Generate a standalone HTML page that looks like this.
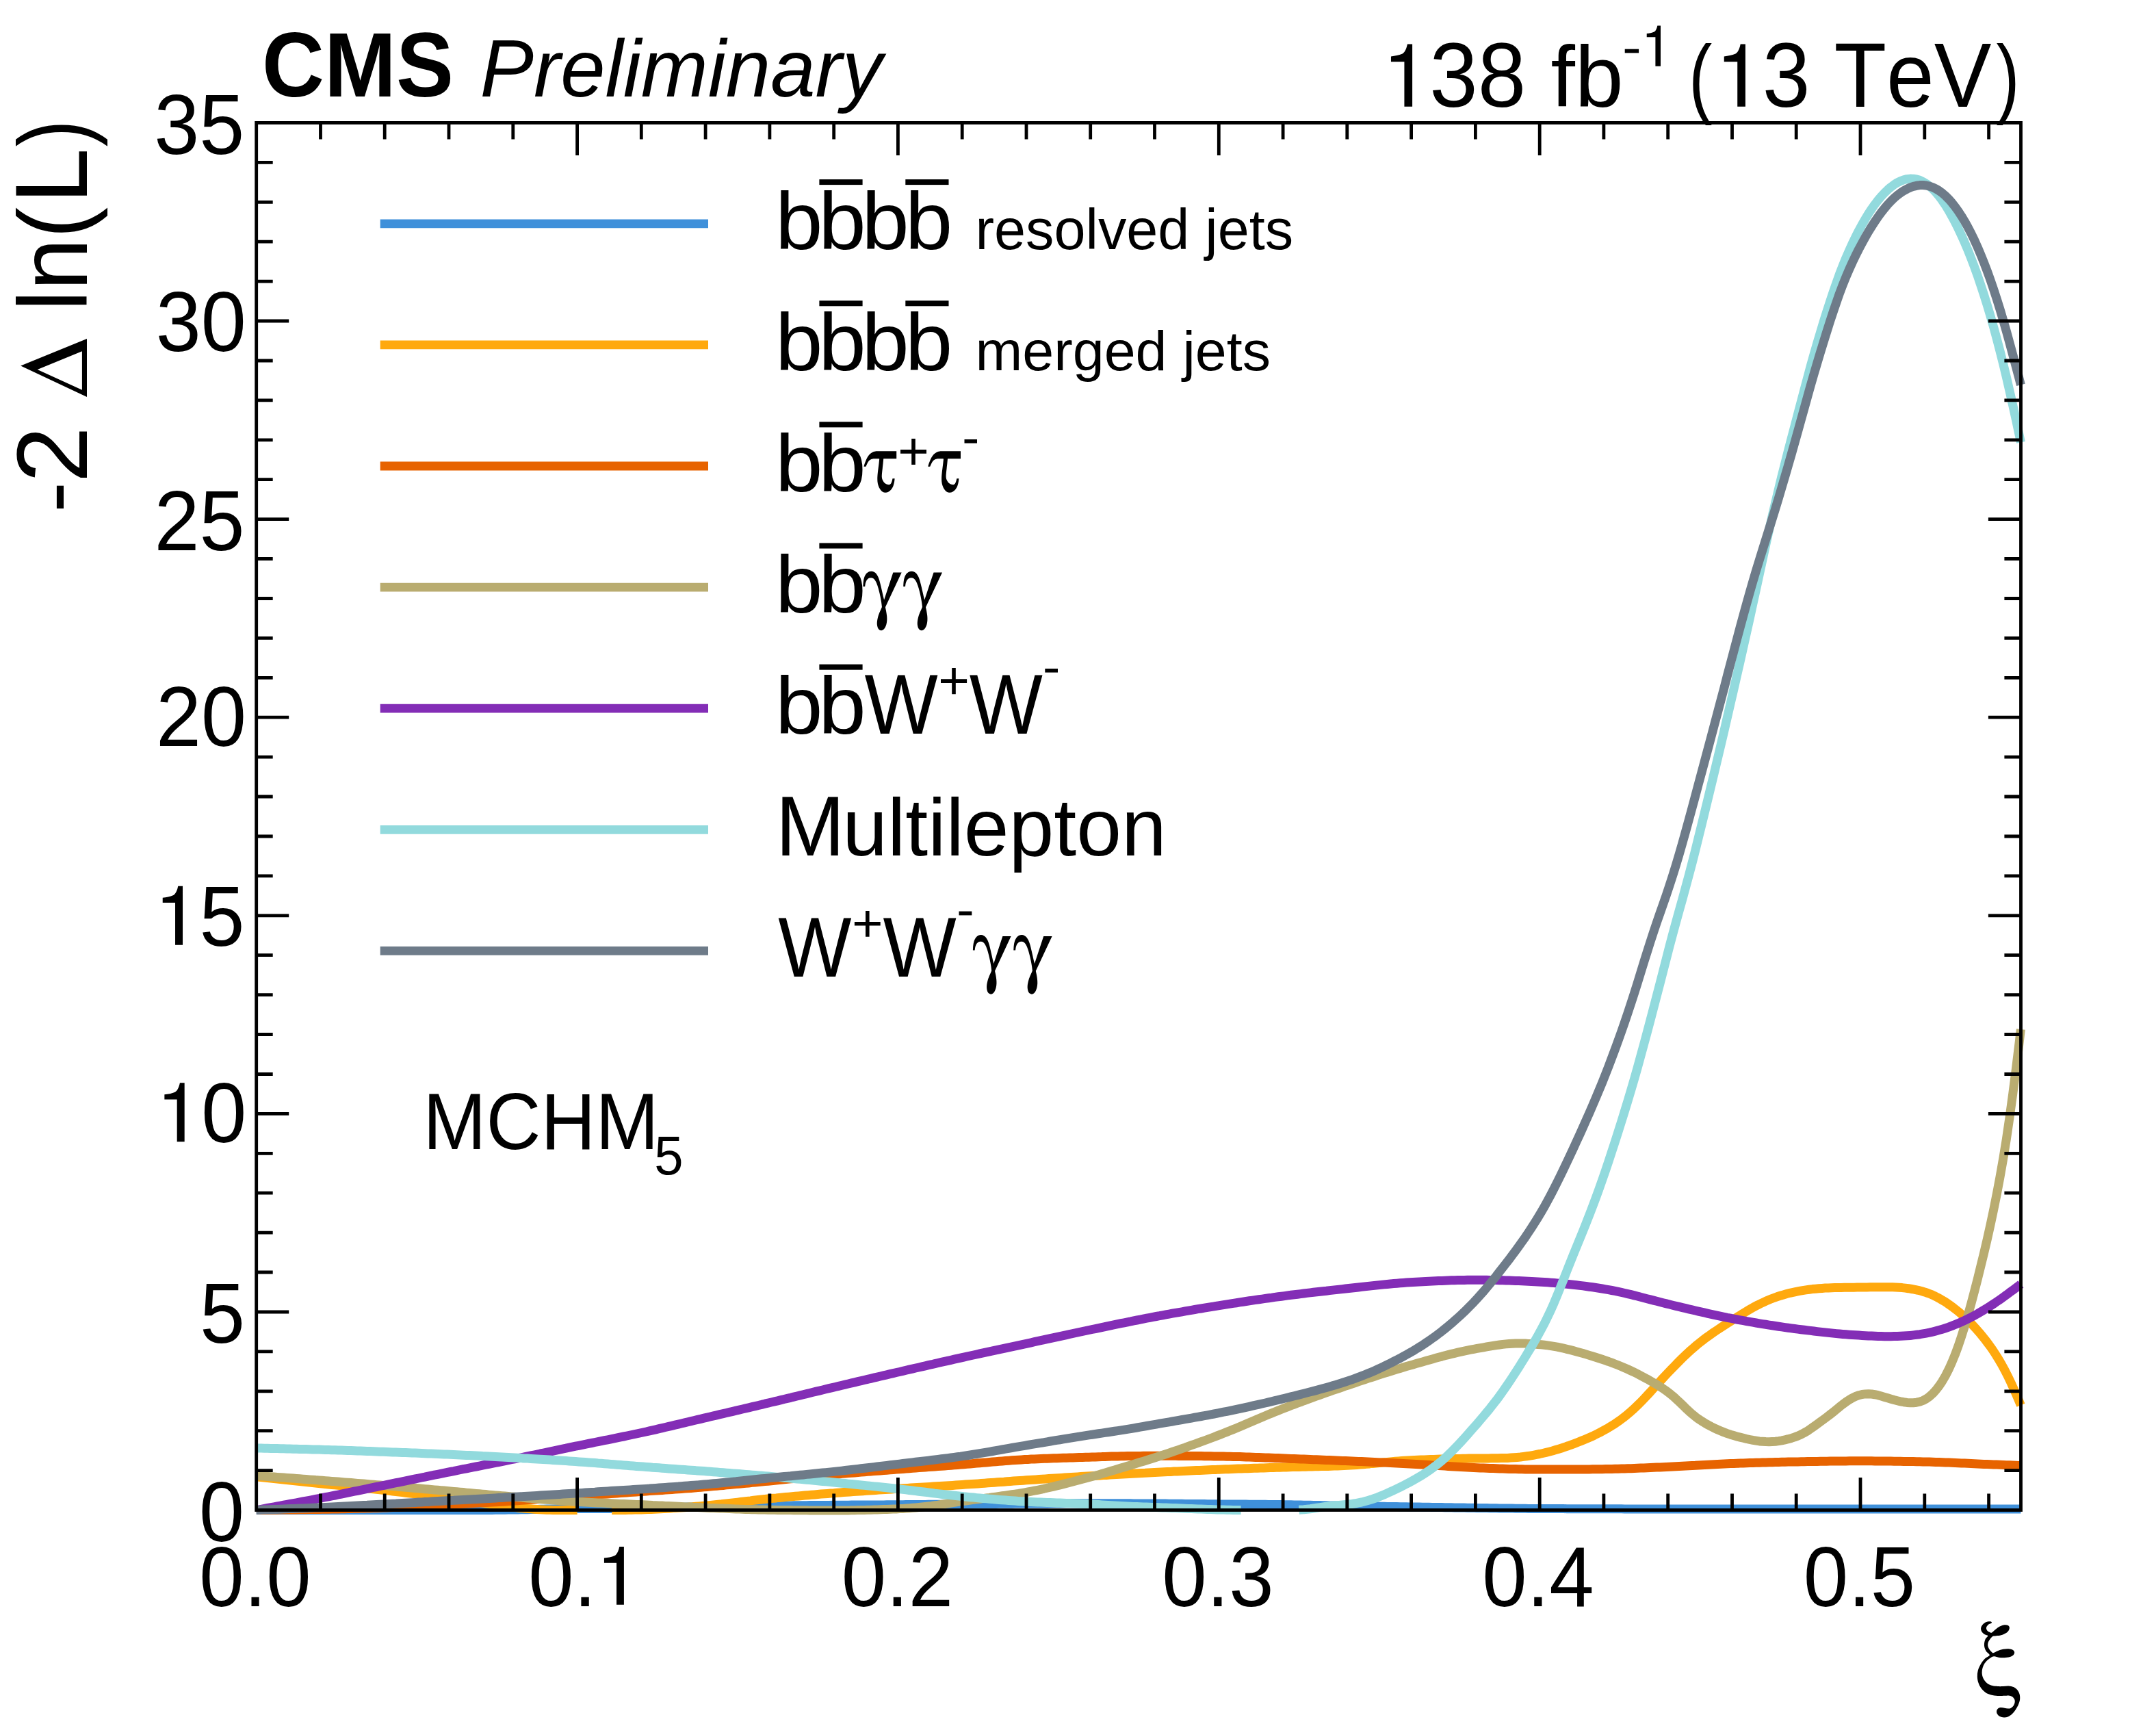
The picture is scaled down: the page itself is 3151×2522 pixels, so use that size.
<!DOCTYPE html>
<html><head><meta charset="utf-8"><title>CMS HH xi scan</title>
<style>html,body{margin:0;padding:0;background:#fff}svg{display:block}text{font-family:"Liberation Sans",sans-serif;fill:#000;font-kerning:none}.ser{font-family:"Liberation Serif",serif}</style></head><body>
<svg width="3151" height="2522" viewBox="0 0 3151 2522">
<rect width="3151" height="2522" fill="#fff"/>
<g fill="none" stroke-width="13" stroke-linejoin="round" stroke-linecap="butt">
<path stroke="#3f90da" d="M374.7 2206.6L377.0 2206.6L381.7 2206.6L386.4 2206.6L391.1 2206.6L395.8 2206.6L400.5 2206.6L405.2 2206.6L409.9 2206.6L414.6 2206.6L419.2 2206.6L423.9 2206.6L428.6 2206.6L433.3 2206.6L438.0 2206.6L442.7 2206.6L447.4 2206.6L452.1 2206.6L456.8 2206.6L461.4 2206.6L466.1 2206.6L470.8 2206.6L475.5 2206.6L480.2 2206.6L484.9 2206.6L489.6 2206.6L494.3 2206.6L498.9 2206.6L503.6 2206.6L508.3 2206.6L513.0 2206.6L517.7 2206.6L522.4 2206.6L527.1 2206.6L531.8 2206.6L536.5 2206.6L541.1 2206.6L545.8 2206.6L550.5 2206.6L555.2 2206.6L559.9 2206.6L564.6 2206.6L569.3 2206.6L574.0 2206.6L578.7 2206.6L583.3 2206.6L588.0 2206.6L592.7 2206.6L597.4 2206.6L602.1 2206.6L606.8 2206.6L611.5 2206.6L616.2 2206.6L620.9 2206.6L625.5 2206.6L630.2 2206.6L634.9 2206.5L639.6 2206.5L644.3 2206.5L649.0 2206.5L653.7 2206.5L658.4 2206.5L663.1 2206.5L667.7 2206.5L672.4 2206.5L677.1 2206.5L681.8 2206.5L686.5 2206.5L691.2 2206.5L695.9 2206.5L700.6 2206.5L705.2 2206.5L709.9 2206.5L714.6 2206.4L719.3 2206.4L724.0 2206.3L728.7 2206.3L733.4 2206.2L738.1 2206.2L742.8 2206.1L747.4 2206.1L752.1 2206.0L756.8 2205.9L761.5 2205.8L766.2 2205.8L770.9 2205.7L775.6 2205.6L780.3 2205.5L785.0 2205.4L789.6 2205.3L794.3 2205.2L799.0 2205.1L803.7 2205.0L808.4 2204.9L813.1 2204.8L817.8 2204.7L822.5 2204.6L827.2 2204.6L831.8 2204.5L836.5 2204.5L841.2 2204.5L845.9 2204.5L850.6 2204.5L855.3 2204.5L860.0 2204.5L864.7 2204.5L869.4 2204.5L874.0 2204.6L878.7 2204.6L883.4 2204.6L888.1 2204.6L892.8 2204.6L897.5 2204.6L902.2 2204.6L906.9 2204.6L911.5 2204.5L916.2 2204.5L920.9 2204.4L925.6 2204.3L930.3 2204.3L935.0 2204.2L939.7 2204.1L944.4 2204.0L949.1 2203.9L953.7 2203.7L958.4 2203.6L963.1 2203.5L967.8 2203.3L972.5 2203.2L977.2 2203.0L981.9 2202.9L986.6 2202.7L991.3 2202.6L995.9 2202.4L1000.6 2202.3L1005.3 2202.1L1010.0 2202.0L1014.7 2201.8L1019.4 2201.7L1024.1 2201.6L1028.8 2201.5L1033.5 2201.4L1038.1 2201.3L1042.8 2201.2L1047.5 2201.1L1052.2 2201.1L1056.9 2201.0L1061.6 2200.9L1066.3 2200.8L1071.0 2200.8L1075.7 2200.7L1080.3 2200.7L1085.0 2200.6L1089.7 2200.6L1094.4 2200.5L1099.1 2200.5L1103.8 2200.4L1108.5 2200.4L1113.2 2200.3L1117.8 2200.3L1122.5 2200.2L1127.2 2200.2L1131.9 2200.1L1136.6 2200.1L1141.3 2200.0L1146.0 2200.0L1150.7 2199.9L1155.4 2199.9L1160.0 2199.8L1164.7 2199.8L1169.4 2199.7L1174.1 2199.7L1178.8 2199.7L1183.5 2199.6L1188.2 2199.6L1192.9 2199.5L1197.6 2199.5L1202.2 2199.5L1206.9 2199.4L1211.6 2199.4L1216.3 2199.3L1221.0 2199.3L1225.7 2199.3L1230.4 2199.2L1235.1 2199.2L1239.8 2199.2L1244.4 2199.1L1249.1 2199.1L1253.8 2199.1L1258.5 2199.1L1263.2 2199.0L1267.9 2199.0L1272.6 2199.0L1277.3 2198.9L1282.0 2198.9L1286.6 2198.9L1291.3 2198.9L1296.0 2198.8L1300.7 2198.8L1305.4 2198.8L1310.1 2198.7L1314.8 2198.7L1319.5 2198.7L1324.1 2198.6L1328.8 2198.6L1333.5 2198.5L1338.2 2198.5L1342.9 2198.5L1347.6 2198.4L1352.3 2198.4L1357.0 2198.3L1361.7 2198.3L1366.3 2198.2L1371.0 2198.2L1375.7 2198.2L1380.4 2198.1L1385.1 2198.1L1389.8 2198.0L1394.5 2198.0L1399.2 2197.9L1403.9 2197.9L1408.5 2197.8L1413.2 2197.8L1417.9 2197.7L1422.6 2197.7L1427.3 2197.6L1432.0 2197.6L1436.7 2197.5L1441.4 2197.5L1446.1 2197.5L1450.7 2197.4L1455.4 2197.4L1460.1 2197.3L1464.8 2197.3L1469.5 2197.2L1474.2 2197.2L1478.9 2197.2L1483.6 2197.1L1488.3 2197.1L1492.9 2197.1L1497.6 2197.0L1502.3 2197.0L1507.0 2197.0L1511.7 2197.0L1516.4 2196.9L1521.1 2196.9L1525.8 2196.9L1530.4 2196.9L1535.1 2196.8L1539.8 2196.8L1544.5 2196.8L1549.2 2196.8L1553.9 2196.8L1558.6 2196.8L1563.3 2196.8L1568.0 2196.8L1572.6 2196.7L1577.3 2196.7L1582.0 2196.7L1586.7 2196.7L1591.4 2196.7L1596.1 2196.7L1600.8 2196.7L1605.5 2196.7L1610.2 2196.7L1614.8 2196.7L1619.5 2196.8L1624.2 2196.8L1628.9 2196.8L1633.6 2196.8L1638.3 2196.8L1643.0 2196.8L1647.7 2196.8L1652.4 2196.8L1657.0 2196.9L1661.7 2196.9L1666.4 2196.9L1671.1 2196.9L1675.8 2197.0L1680.5 2197.0L1685.2 2197.0L1689.9 2197.0L1694.6 2197.1L1699.2 2197.1L1703.9 2197.1L1708.6 2197.2L1713.3 2197.2L1718.0 2197.2L1722.7 2197.3L1727.4 2197.3L1732.1 2197.4L1736.7 2197.4L1741.4 2197.5L1746.1 2197.5L1750.8 2197.6L1755.5 2197.6L1760.2 2197.6L1764.9 2197.7L1769.6 2197.7L1774.3 2197.8L1778.9 2197.8L1783.6 2197.9L1788.3 2197.9L1793.0 2197.9L1797.7 2198.0L1802.4 2198.0L1807.1 2198.0L1811.8 2198.1L1816.5 2198.1L1821.1 2198.1L1825.8 2198.2L1830.5 2198.2L1835.2 2198.2L1839.9 2198.3L1844.6 2198.3L1849.3 2198.3L1854.0 2198.4L1858.7 2198.4L1863.3 2198.5L1868.0 2198.5L1872.7 2198.6L1877.4 2198.7L1882.1 2198.7L1886.8 2198.8L1891.5 2198.9L1896.2 2199.0L1900.9 2199.1L1905.5 2199.2L1910.2 2199.3L1914.9 2199.3L1919.6 2199.4L1924.3 2199.5L1929.0 2199.6L1933.7 2199.7L1938.4 2199.8L1943.0 2199.9L1947.7 2200.0L1952.4 2200.1L1957.1 2200.2L1961.8 2200.3L1966.5 2200.4L1971.2 2200.4L1975.9 2200.5L1980.6 2200.6L1985.2 2200.7L1989.9 2200.8L1994.6 2200.8L1999.3 2200.9L2004.0 2201.0L2008.7 2201.1L2013.4 2201.1L2018.1 2201.2L2022.8 2201.3L2027.4 2201.4L2032.1 2201.4L2036.8 2201.5L2041.5 2201.6L2046.2 2201.7L2050.9 2201.7L2055.6 2201.8L2060.3 2201.9L2065.0 2202.0L2069.6 2202.0L2074.3 2202.1L2079.0 2202.2L2083.7 2202.3L2088.4 2202.3L2093.1 2202.4L2097.8 2202.5L2102.5 2202.6L2107.2 2202.6L2111.8 2202.7L2116.5 2202.8L2121.2 2202.8L2125.9 2202.9L2130.6 2203.0L2135.3 2203.1L2140.0 2203.1L2144.7 2203.2L2149.3 2203.3L2154.0 2203.3L2158.7 2203.4L2163.4 2203.5L2168.1 2203.5L2172.8 2203.6L2177.5 2203.7L2182.2 2203.7L2186.9 2203.8L2191.5 2203.9L2196.2 2203.9L2200.9 2204.0L2205.6 2204.1L2210.3 2204.1L2215.0 2204.2L2219.7 2204.2L2224.4 2204.3L2229.1 2204.3L2233.7 2204.4L2238.4 2204.4L2243.1 2204.4L2247.8 2204.5L2252.5 2204.5L2257.2 2204.5L2261.9 2204.5L2266.6 2204.6L2271.3 2204.6L2275.9 2204.6L2280.6 2204.6L2285.3 2204.6L2290.0 2204.7L2294.7 2204.7L2299.4 2204.7L2304.1 2204.7L2308.8 2204.7L2313.5 2204.7L2318.1 2204.7L2322.8 2204.7L2327.5 2204.8L2332.2 2204.8L2336.9 2204.8L2341.6 2204.8L2346.3 2204.8L2351.0 2204.8L2355.6 2204.8L2360.3 2204.8L2365.0 2204.8L2369.7 2204.8L2374.4 2204.9L2379.1 2204.9L2383.8 2204.9L2388.5 2204.9L2393.2 2204.9L2397.8 2204.9L2402.5 2204.9L2407.2 2204.9L2411.9 2204.9L2416.6 2204.9L2421.3 2204.9L2426.0 2204.9L2430.7 2204.9L2435.4 2204.9L2440.0 2204.9L2444.7 2204.9L2449.4 2204.9L2454.1 2204.9L2458.8 2204.9L2463.5 2204.9L2468.2 2204.9L2472.9 2205.0L2477.6 2205.0L2482.2 2205.0L2486.9 2205.0L2491.6 2205.0L2496.3 2205.0L2501.0 2205.0L2505.7 2205.0L2510.4 2205.0L2515.1 2205.0L2519.8 2205.0L2524.4 2205.0L2529.1 2205.0L2533.8 2205.0L2538.5 2205.0L2543.2 2205.0L2547.9 2205.0L2552.6 2205.0L2557.3 2205.0L2561.9 2205.0L2566.6 2205.0L2571.3 2205.0L2576.0 2205.0L2580.7 2205.0L2585.4 2205.0L2590.1 2205.0L2594.8 2205.0L2599.5 2205.0L2604.1 2205.0L2608.8 2205.0L2613.5 2205.0L2618.2 2205.0L2622.9 2205.0L2627.6 2205.0L2632.3 2205.0L2637.0 2205.0L2641.7 2205.0L2646.3 2205.0L2651.0 2205.0L2655.7 2205.0L2660.4 2205.0L2665.1 2205.0L2669.8 2205.0L2674.5 2205.0L2679.2 2205.0L2683.9 2205.0L2688.5 2205.0L2693.2 2205.0L2697.9 2205.0L2702.6 2205.0L2707.3 2205.0L2712.0 2205.0L2716.7 2205.0L2721.4 2205.0L2726.1 2205.0L2730.7 2205.0L2735.4 2205.0L2740.1 2205.0L2744.8 2205.0L2749.5 2205.0L2754.2 2205.0L2758.9 2205.0L2763.6 2205.0L2768.2 2205.0L2772.9 2205.0L2777.6 2205.0L2782.3 2205.0L2787.0 2205.0L2791.7 2205.0L2796.4 2205.0L2801.1 2205.0L2805.8 2205.0L2810.4 2205.0L2815.1 2205.0L2819.8 2205.0L2824.5 2205.0L2829.2 2205.0L2833.9 2205.0L2838.6 2205.0L2843.3 2205.0L2848.0 2205.0L2852.6 2205.0L2857.3 2205.0L2862.0 2205.0L2866.7 2205.0L2871.4 2205.0L2876.1 2205.0L2880.8 2205.0L2885.5 2205.0L2890.2 2205.0L2894.8 2205.0L2899.5 2205.0L2904.2 2205.0L2908.9 2205.0L2913.6 2205.0L2918.3 2205.0L2923.0 2205.0L2927.7 2205.0L2932.4 2205.0L2937.0 2205.0L2941.7 2205.0L2946.4 2205.0L2951.1 2205.0L2953.4 2205.0"/>
<path stroke="#ffa90e" d="M374.7 2157.9L377.0 2158.1L381.7 2158.6L386.4 2159.1L391.1 2159.6L395.8 2160.1L400.5 2160.6L405.2 2161.1L409.9 2161.6L414.6 2162.1L419.2 2162.6L423.9 2163.1L428.6 2163.6L433.3 2164.1L438.0 2164.5L442.7 2165.0L447.4 2165.5L452.1 2166.0L456.8 2166.5L461.4 2167.0L466.1 2167.5L470.8 2168.0L475.5 2168.5L480.2 2169.0L484.9 2169.4L489.6 2169.9L494.3 2170.4L498.9 2170.9L503.6 2171.4L508.3 2171.9L513.0 2172.3L517.7 2172.8L522.4 2173.3L527.1 2173.8L531.8 2174.3L536.5 2174.8L541.1 2175.3L545.8 2175.8L550.5 2176.3L555.2 2176.8L559.9 2177.4L564.6 2177.9L569.3 2178.4L574.0 2179.0L578.7 2179.5L583.3 2180.1L588.0 2180.6L592.7 2181.2L597.4 2181.8L602.1 2182.3L606.8 2182.9L611.5 2183.5L616.2 2184.1L620.9 2184.7L625.5 2185.2L630.2 2185.8L634.9 2186.4L639.6 2187.1L644.3 2187.7L649.0 2188.3L653.7 2188.9L658.4 2189.5L663.1 2190.2L667.7 2190.8L672.4 2191.5L677.1 2192.1L681.8 2192.8L686.5 2193.4L691.2 2194.1L695.9 2194.8L700.6 2195.4L705.2 2196.1L709.9 2196.8L714.6 2197.4L719.3 2198.1L724.0 2198.7L728.7 2199.3L733.4 2200.0L738.1 2200.6L742.8 2201.2L747.4 2201.8L752.1 2202.4L756.8 2203.0L761.5 2203.5L766.2 2204.0L770.9 2204.4L775.6 2204.8L780.3 2205.2L785.0 2205.5L789.6 2205.8L794.3 2206.0L799.0 2206.2L803.7 2206.3L808.4 2206.4L813.1 2206.5L817.8 2206.5L822.5 2206.5L827.2 2206.5L831.8 2206.5L836.5 2206.5L841.2 2206.5L843.6 2206.5M894.2 2206.5L895.1 2206.5L899.8 2206.5L904.5 2206.5L909.2 2206.4L913.9 2206.4L918.6 2206.3L923.3 2206.2L928.0 2206.1L932.6 2206.0L937.3 2205.9L942.0 2205.7L946.7 2205.6L951.4 2205.4L956.1 2205.2L960.8 2205.0L965.5 2204.7L970.2 2204.5L974.8 2204.2L979.5 2203.9L984.2 2203.6L988.9 2203.3L993.6 2203.0L998.3 2202.7L1003.0 2202.4L1007.7 2202.0L1012.4 2201.7L1017.0 2201.3L1021.7 2200.9L1026.4 2200.5L1031.1 2200.1L1035.8 2199.7L1040.5 2199.2L1045.2 2198.7L1049.9 2198.3L1054.6 2197.8L1059.2 2197.2L1063.9 2196.7L1068.6 2196.2L1073.3 2195.6L1078.0 2195.1L1082.7 2194.5L1087.4 2194.0L1092.1 2193.4L1096.8 2192.9L1101.4 2192.3L1106.1 2191.8L1110.8 2191.3L1115.5 2190.8L1120.2 2190.3L1124.9 2189.8L1129.6 2189.3L1134.3 2188.9L1138.9 2188.4L1143.6 2188.0L1148.3 2187.6L1153.0 2187.1L1157.7 2186.7L1162.4 2186.3L1167.1 2185.9L1171.8 2185.5L1176.5 2185.1L1181.1 2184.7L1185.8 2184.3L1190.5 2183.9L1195.2 2183.5L1199.9 2183.1L1204.6 2182.8L1209.3 2182.4L1214.0 2182.0L1218.7 2181.7L1223.3 2181.3L1228.0 2181.0L1232.7 2180.6L1237.4 2180.3L1242.1 2180.0L1246.8 2179.6L1251.5 2179.3L1256.2 2179.0L1260.9 2178.7L1265.5 2178.3L1270.2 2178.0L1274.9 2177.7L1279.6 2177.4L1284.3 2177.1L1289.0 2176.8L1293.7 2176.5L1298.4 2176.2L1303.0 2175.9L1307.7 2175.6L1312.4 2175.3L1317.1 2175.0L1321.8 2174.7L1326.5 2174.4L1331.2 2174.1L1335.9 2173.8L1340.6 2173.5L1345.2 2173.2L1349.9 2173.0L1354.6 2172.7L1359.3 2172.4L1364.0 2172.1L1368.7 2171.8L1373.4 2171.5L1378.1 2171.3L1382.8 2171.0L1387.4 2170.7L1392.1 2170.4L1396.8 2170.1L1401.5 2169.8L1406.2 2169.5L1410.9 2169.1L1415.6 2168.8L1420.3 2168.5L1425.0 2168.2L1429.6 2167.9L1434.3 2167.5L1439.0 2167.2L1443.7 2166.8L1448.4 2166.5L1453.1 2166.2L1457.8 2165.8L1462.5 2165.5L1467.2 2165.2L1471.8 2164.8L1476.5 2164.5L1481.2 2164.1L1485.9 2163.8L1490.6 2163.5L1495.3 2163.2L1500.0 2162.8L1504.7 2162.5L1509.3 2162.2L1514.0 2161.9L1518.7 2161.6L1523.4 2161.2L1528.1 2160.9L1532.8 2160.6L1537.5 2160.3L1542.2 2160.0L1546.9 2159.7L1551.5 2159.4L1556.2 2159.1L1560.9 2158.8L1565.6 2158.5L1570.3 2158.2L1575.0 2157.9L1579.7 2157.6L1584.4 2157.3L1589.1 2157.0L1593.7 2156.8L1598.4 2156.5L1603.1 2156.2L1607.8 2155.9L1612.5 2155.6L1617.2 2155.4L1621.9 2155.1L1626.6 2154.8L1631.3 2154.6L1635.9 2154.3L1640.6 2154.0L1645.3 2153.8L1650.0 2153.5L1654.7 2153.3L1659.4 2153.0L1664.1 2152.8L1668.8 2152.5L1673.5 2152.3L1678.1 2152.0L1682.8 2151.8L1687.5 2151.5L1692.2 2151.3L1696.9 2151.1L1701.6 2150.8L1706.3 2150.6L1711.0 2150.4L1715.7 2150.1L1720.3 2149.9L1725.0 2149.7L1729.7 2149.5L1734.4 2149.2L1739.1 2149.0L1743.8 2148.8L1748.5 2148.6L1753.2 2148.4L1757.8 2148.2L1762.5 2148.0L1767.2 2147.8L1771.9 2147.6L1776.6 2147.4L1781.3 2147.2L1786.0 2147.0L1790.7 2146.8L1795.4 2146.7L1800.0 2146.5L1804.7 2146.3L1809.4 2146.1L1814.1 2146.0L1818.8 2145.8L1823.5 2145.7L1828.2 2145.5L1832.9 2145.3L1837.6 2145.2L1842.2 2145.0L1846.9 2144.9L1851.6 2144.7L1856.3 2144.6L1861.0 2144.4L1865.7 2144.3L1870.4 2144.2L1875.1 2144.0L1879.8 2143.9L1884.4 2143.8L1889.1 2143.6L1893.8 2143.5L1898.5 2143.4L1903.2 2143.3L1907.9 2143.2L1912.6 2143.1L1917.3 2143.0L1922.0 2142.8L1926.6 2142.7L1931.3 2142.6L1936.0 2142.5L1940.7 2142.4L1945.4 2142.2L1950.1 2142.1L1954.8 2141.9L1959.5 2141.7L1964.1 2141.5L1968.8 2141.3L1973.5 2141.1L1978.2 2140.8L1982.9 2140.5L1987.6 2140.1L1992.3 2139.7L1997.0 2139.3L2001.7 2138.9L2006.3 2138.4L2011.0 2138.0L2015.7 2137.5L2020.4 2137.1L2025.1 2136.6L2029.8 2136.1L2034.5 2135.7L2039.2 2135.3L2043.9 2134.9L2048.5 2134.6L2053.2 2134.2L2057.9 2134.0L2062.6 2133.7L2067.3 2133.5L2072.0 2133.2L2076.7 2133.0L2081.4 2132.9L2086.1 2132.7L2090.7 2132.5L2095.4 2132.4L2100.1 2132.2L2104.8 2132.1L2109.5 2131.9L2114.2 2131.8L2118.9 2131.7L2123.6 2131.6L2128.2 2131.5L2132.9 2131.4L2137.6 2131.3L2142.3 2131.2L2147.0 2131.1L2151.7 2131.1L2156.4 2131.0L2161.1 2131.0L2165.8 2130.9L2170.4 2130.9L2175.1 2130.9L2179.8 2130.8L2184.5 2130.8L2189.2 2130.7L2193.9 2130.6L2198.6 2130.5L2203.3 2130.4L2208.0 2130.1L2212.6 2129.8L2217.3 2129.4L2222.0 2129.0L2226.7 2128.4L2231.4 2127.8L2236.1 2127.1L2240.8 2126.3L2245.5 2125.4L2250.2 2124.5L2254.8 2123.5L2259.5 2122.4L2264.2 2121.2L2268.9 2120.0L2273.6 2118.6L2278.3 2117.2L2283.0 2115.7L2287.7 2114.1L2292.4 2112.5L2297.0 2110.8L2301.7 2109.1L2306.4 2107.3L2311.1 2105.4L2315.8 2103.5L2320.5 2101.5L2325.2 2099.5L2329.9 2097.3L2334.5 2095.0L2339.2 2092.6L2343.9 2090.1L2348.6 2087.5L2353.3 2084.7L2358.0 2081.8L2362.7 2078.6L2367.4 2075.4L2372.1 2071.9L2376.7 2068.2L2381.4 2064.3L2386.1 2060.2L2390.8 2055.8L2395.5 2051.3L2400.2 2046.5L2404.9 2041.6L2409.6 2036.5L2414.3 2031.4L2418.9 2026.2L2423.6 2021.1L2428.3 2016.0L2433.0 2010.9L2437.7 2005.9L2442.4 2001.0L2447.1 1996.2L2451.8 1991.4L2456.5 1986.7L2461.1 1982.2L2465.8 1977.7L2470.5 1973.4L2475.2 1969.3L2479.9 1965.3L2484.6 1961.5L2489.3 1957.8L2494.0 1954.3L2498.7 1950.9L2503.3 1947.7L2508.0 1944.5L2512.7 1941.4L2517.4 1938.3L2522.1 1935.3L2526.8 1932.3L2531.5 1929.3L2536.2 1926.3L2540.8 1923.3L2545.5 1920.4L2550.2 1917.5L2554.9 1914.7L2559.6 1911.9L2564.3 1909.3L2569.0 1906.8L2573.7 1904.5L2578.4 1902.3L2583.0 1900.2L2587.7 1898.3L2592.4 1896.5L2597.1 1894.8L2601.8 1893.3L2606.5 1891.9L2611.2 1890.5L2615.9 1889.3L2620.6 1888.3L2625.2 1887.3L2629.9 1886.4L2634.6 1885.6L2639.3 1884.9L2644.0 1884.2L2648.7 1883.6L2653.4 1883.2L2658.1 1882.7L2662.8 1882.4L2667.4 1882.1L2672.1 1881.9L2676.8 1881.7L2681.5 1881.6L2686.2 1881.5L2690.9 1881.4L2695.6 1881.3L2700.3 1881.3L2705.0 1881.2L2709.6 1881.2L2714.3 1881.1L2719.0 1881.0L2723.7 1881.0L2728.4 1880.9L2733.1 1880.8L2737.8 1880.8L2742.5 1880.7L2747.1 1880.7L2751.8 1880.7L2756.5 1880.7L2761.2 1880.7L2765.9 1880.8L2770.6 1881.0L2775.3 1881.3L2780.0 1881.6L2784.7 1882.1L2789.3 1882.7L2794.0 1883.5L2798.7 1884.3L2803.4 1885.3L2808.1 1886.5L2812.8 1887.9L2817.5 1889.5L2822.2 1891.3L2826.9 1893.4L2831.5 1895.7L2836.2 1898.3L2840.9 1901.1L2845.6 1904.1L2850.3 1907.4L2855.0 1910.8L2859.7 1914.5L2864.4 1918.3L2869.1 1922.4L2873.7 1926.8L2878.4 1931.4L2883.1 1936.3L2887.8 1941.4L2892.5 1946.7L2897.2 1952.4L2901.9 1958.3L2906.6 1964.5L2911.3 1971.0L2915.9 1978.0L2920.6 1985.5L2925.3 1993.5L2930.0 2002.1L2934.7 2011.4L2939.4 2021.2L2944.1 2031.6L2948.8 2042.4L2953.4 2053.3"/>
<path stroke="#e76300" d="M374.7 2206.6L377.0 2206.5L381.7 2206.5L386.4 2206.4L391.1 2206.4L395.8 2206.3L400.5 2206.3L405.2 2206.2L409.9 2206.1L414.6 2206.1L419.2 2206.0L423.9 2206.0L428.6 2205.9L433.3 2205.9L438.0 2205.8L442.7 2205.7L447.4 2205.7L452.1 2205.6L456.8 2205.5L461.4 2205.5L466.1 2205.4L470.8 2205.3L475.5 2205.2L480.2 2205.2L484.9 2205.1L489.6 2205.0L494.3 2204.9L498.9 2204.8L503.6 2204.7L508.3 2204.6L513.0 2204.5L517.7 2204.3L522.4 2204.2L527.1 2204.1L531.8 2204.0L536.5 2203.8L541.1 2203.7L545.8 2203.6L550.5 2203.4L555.2 2203.3L559.9 2203.1L564.6 2202.9L569.3 2202.8L574.0 2202.6L578.7 2202.4L583.3 2202.2L588.0 2202.0L592.7 2201.8L597.4 2201.5L602.1 2201.3L606.8 2201.1L611.5 2200.8L616.2 2200.6L620.9 2200.3L625.5 2200.1L630.2 2199.8L634.9 2199.6L639.6 2199.3L644.3 2199.1L649.0 2198.8L653.7 2198.6L658.4 2198.3L663.1 2198.1L667.7 2197.8L672.4 2197.6L677.1 2197.3L681.8 2197.1L686.5 2196.8L691.2 2196.6L695.9 2196.3L700.6 2196.1L705.2 2195.8L709.9 2195.6L714.6 2195.3L719.3 2195.0L724.0 2194.8L728.7 2194.5L733.4 2194.2L738.1 2193.9L742.8 2193.6L747.4 2193.3L752.1 2193.0L756.8 2192.7L761.5 2192.3L766.2 2192.0L770.9 2191.6L775.6 2191.2L780.3 2190.9L785.0 2190.5L789.6 2190.1L794.3 2189.7L799.0 2189.3L803.7 2188.9L808.4 2188.5L813.1 2188.1L817.8 2187.7L822.5 2187.4L827.2 2187.0L831.8 2186.6L836.5 2186.3L841.2 2186.0L845.9 2185.6L850.6 2185.3L855.3 2185.0L860.0 2184.7L864.7 2184.4L869.4 2184.1L874.0 2183.8L878.7 2183.5L883.4 2183.2L888.1 2182.9L892.8 2182.6L897.5 2182.2L902.2 2181.9L906.9 2181.6L911.5 2181.2L916.2 2180.9L920.9 2180.6L925.6 2180.2L930.3 2179.9L935.0 2179.6L939.7 2179.2L944.4 2178.9L949.1 2178.6L953.7 2178.3L958.4 2178.0L963.1 2177.7L967.8 2177.4L972.5 2177.1L977.2 2176.8L981.9 2176.5L986.6 2176.1L991.3 2175.8L995.9 2175.5L1000.6 2175.1L1005.3 2174.8L1010.0 2174.4L1014.7 2174.0L1019.4 2173.6L1024.1 2173.2L1028.8 2172.8L1033.5 2172.4L1038.1 2172.0L1042.8 2171.6L1047.5 2171.2L1052.2 2170.8L1056.9 2170.4L1061.6 2169.9L1066.3 2169.5L1071.0 2169.1L1075.7 2168.6L1080.3 2168.2L1085.0 2167.8L1089.7 2167.3L1094.4 2166.9L1099.1 2166.4L1103.8 2166.0L1108.5 2165.5L1113.2 2165.1L1117.8 2164.6L1122.5 2164.2L1127.2 2163.7L1131.9 2163.2L1136.6 2162.8L1141.3 2162.3L1146.0 2161.8L1150.7 2161.3L1155.4 2160.8L1160.0 2160.4L1164.7 2159.9L1169.4 2159.4L1174.1 2158.9L1178.8 2158.4L1183.5 2157.9L1188.2 2157.4L1192.9 2157.0L1197.6 2156.5L1202.2 2156.0L1206.9 2155.6L1211.6 2155.1L1216.3 2154.7L1221.0 2154.3L1225.7 2153.9L1230.4 2153.4L1235.1 2153.0L1239.8 2152.6L1244.4 2152.2L1249.1 2151.9L1253.8 2151.5L1258.5 2151.1L1263.2 2150.7L1267.9 2150.3L1272.6 2150.0L1277.3 2149.6L1282.0 2149.2L1286.6 2148.9L1291.3 2148.5L1296.0 2148.2L1300.7 2147.8L1305.4 2147.4L1310.1 2147.1L1314.8 2146.7L1319.5 2146.4L1324.1 2146.0L1328.8 2145.7L1333.5 2145.3L1338.2 2145.0L1342.9 2144.6L1347.6 2144.3L1352.3 2143.9L1357.0 2143.6L1361.7 2143.3L1366.3 2142.9L1371.0 2142.6L1375.7 2142.2L1380.4 2141.9L1385.1 2141.5L1389.8 2141.2L1394.5 2140.8L1399.2 2140.4L1403.9 2140.1L1408.5 2139.7L1413.2 2139.3L1417.9 2138.9L1422.6 2138.5L1427.3 2138.1L1432.0 2137.7L1436.7 2137.3L1441.4 2136.9L1446.1 2136.5L1450.7 2136.1L1455.4 2135.7L1460.1 2135.3L1464.8 2134.9L1469.5 2134.5L1474.2 2134.2L1478.9 2133.8L1483.6 2133.5L1488.3 2133.2L1492.9 2132.9L1497.6 2132.6L1502.3 2132.4L1507.0 2132.1L1511.7 2131.9L1516.4 2131.7L1521.1 2131.5L1525.8 2131.3L1530.4 2131.2L1535.1 2131.0L1539.8 2130.8L1544.5 2130.7L1549.2 2130.5L1553.9 2130.3L1558.6 2130.2L1563.3 2130.1L1568.0 2129.9L1572.6 2129.8L1577.3 2129.6L1582.0 2129.5L1586.7 2129.3L1591.4 2129.2L1596.1 2129.0L1600.8 2128.9L1605.5 2128.7L1610.2 2128.6L1614.8 2128.4L1619.5 2128.3L1624.2 2128.1L1628.9 2128.0L1633.6 2127.9L1638.3 2127.8L1643.0 2127.7L1647.7 2127.6L1652.4 2127.6L1657.0 2127.5L1661.7 2127.4L1666.4 2127.4L1671.1 2127.3L1675.8 2127.3L1680.5 2127.3L1685.2 2127.3L1689.9 2127.3L1694.6 2127.3L1699.2 2127.3L1703.9 2127.3L1708.6 2127.3L1713.3 2127.3L1718.0 2127.3L1722.7 2127.4L1727.4 2127.4L1732.1 2127.4L1736.7 2127.5L1741.4 2127.5L1746.1 2127.5L1750.8 2127.6L1755.5 2127.6L1760.2 2127.7L1764.9 2127.7L1769.6 2127.8L1774.3 2127.9L1778.9 2127.9L1783.6 2128.0L1788.3 2128.1L1793.0 2128.2L1797.7 2128.3L1802.4 2128.4L1807.1 2128.5L1811.8 2128.6L1816.5 2128.8L1821.1 2128.9L1825.8 2129.1L1830.5 2129.2L1835.2 2129.4L1839.9 2129.6L1844.6 2129.8L1849.3 2129.9L1854.0 2130.1L1858.7 2130.3L1863.3 2130.5L1868.0 2130.6L1872.7 2130.8L1877.4 2131.0L1882.1 2131.2L1886.8 2131.4L1891.5 2131.5L1896.2 2131.7L1900.9 2131.9L1905.5 2132.1L1910.2 2132.3L1914.9 2132.5L1919.6 2132.7L1924.3 2132.8L1929.0 2133.0L1933.7 2133.2L1938.4 2133.4L1943.0 2133.6L1947.7 2133.8L1952.4 2134.0L1957.1 2134.2L1961.8 2134.4L1966.5 2134.6L1971.2 2134.8L1975.9 2135.0L1980.6 2135.2L1985.2 2135.4L1989.9 2135.6L1994.6 2135.8L1999.3 2136.0L2004.0 2136.2L2008.7 2136.4L2013.4 2136.7L2018.1 2136.9L2022.8 2137.1L2027.4 2137.3L2032.1 2137.5L2036.8 2137.7L2041.5 2137.9L2046.2 2138.2L2050.9 2138.4L2055.6 2138.7L2060.3 2138.9L2065.0 2139.2L2069.6 2139.4L2074.3 2139.7L2079.0 2140.0L2083.7 2140.3L2088.4 2140.6L2093.1 2140.9L2097.8 2141.2L2102.5 2141.5L2107.2 2141.8L2111.8 2142.1L2116.5 2142.4L2121.2 2142.7L2125.9 2143.0L2130.6 2143.3L2135.3 2143.6L2140.0 2143.8L2144.7 2144.1L2149.3 2144.3L2154.0 2144.5L2158.7 2144.7L2163.4 2144.9L2168.1 2145.1L2172.8 2145.3L2177.5 2145.5L2182.2 2145.6L2186.9 2145.8L2191.5 2145.9L2196.2 2146.1L2200.9 2146.2L2205.6 2146.4L2210.3 2146.5L2215.0 2146.6L2219.7 2146.7L2224.4 2146.8L2229.1 2146.9L2233.7 2147.0L2238.4 2147.0L2243.1 2147.1L2247.8 2147.1L2252.5 2147.1L2257.2 2147.1L2261.9 2147.1L2266.6 2147.1L2271.3 2147.1L2275.9 2147.1L2280.6 2147.1L2285.3 2147.1L2290.0 2147.1L2294.7 2147.1L2299.4 2147.0L2304.1 2147.0L2308.8 2147.0L2313.5 2146.9L2318.1 2146.9L2322.8 2146.9L2327.5 2146.8L2332.2 2146.8L2336.9 2146.7L2341.6 2146.7L2346.3 2146.6L2351.0 2146.5L2355.6 2146.4L2360.3 2146.3L2365.0 2146.2L2369.7 2146.1L2374.4 2146.0L2379.1 2145.8L2383.8 2145.7L2388.5 2145.5L2393.2 2145.3L2397.8 2145.1L2402.5 2144.9L2407.2 2144.7L2411.9 2144.5L2416.6 2144.3L2421.3 2144.1L2426.0 2143.9L2430.7 2143.7L2435.4 2143.5L2440.0 2143.3L2444.7 2143.0L2449.4 2142.8L2454.1 2142.6L2458.8 2142.3L2463.5 2142.1L2468.2 2141.8L2472.9 2141.5L2477.6 2141.3L2482.2 2141.0L2486.9 2140.7L2491.6 2140.5L2496.3 2140.2L2501.0 2140.0L2505.7 2139.7L2510.4 2139.5L2515.1 2139.2L2519.8 2139.0L2524.4 2138.8L2529.1 2138.6L2533.8 2138.4L2538.5 2138.2L2543.2 2138.1L2547.9 2137.9L2552.6 2137.8L2557.3 2137.6L2561.9 2137.5L2566.6 2137.3L2571.3 2137.2L2576.0 2137.0L2580.7 2136.9L2585.4 2136.8L2590.1 2136.7L2594.8 2136.6L2599.5 2136.4L2604.1 2136.3L2608.8 2136.2L2613.5 2136.1L2618.2 2136.0L2622.9 2136.0L2627.6 2135.9L2632.3 2135.8L2637.0 2135.7L2641.7 2135.6L2646.3 2135.5L2651.0 2135.5L2655.7 2135.4L2660.4 2135.3L2665.1 2135.2L2669.8 2135.2L2674.5 2135.1L2679.2 2135.1L2683.9 2135.0L2688.5 2135.0L2693.2 2134.9L2697.9 2134.9L2702.6 2134.8L2707.3 2134.8L2712.0 2134.8L2716.7 2134.8L2721.4 2134.8L2726.1 2134.8L2730.7 2134.8L2735.4 2134.8L2740.1 2134.9L2744.8 2134.9L2749.5 2134.9L2754.2 2135.0L2758.9 2135.0L2763.6 2135.1L2768.2 2135.2L2772.9 2135.2L2777.6 2135.3L2782.3 2135.4L2787.0 2135.4L2791.7 2135.5L2796.4 2135.6L2801.1 2135.7L2805.8 2135.8L2810.4 2135.9L2815.1 2136.0L2819.8 2136.1L2824.5 2136.3L2829.2 2136.4L2833.9 2136.6L2838.6 2136.7L2843.3 2136.9L2848.0 2137.1L2852.6 2137.3L2857.3 2137.5L2862.0 2137.7L2866.7 2137.9L2871.4 2138.1L2876.1 2138.3L2880.8 2138.6L2885.5 2138.8L2890.2 2139.0L2894.8 2139.2L2899.5 2139.4L2904.2 2139.6L2908.9 2139.8L2913.6 2140.0L2918.3 2140.1L2923.0 2140.3L2927.7 2140.5L2932.4 2140.7L2937.0 2140.8L2941.7 2141.0L2946.4 2141.2L2951.1 2141.4L2953.4 2141.5"/>
<path stroke="#b9ac70" d="M374.7 2156.2L377.0 2156.3L381.7 2156.7L386.4 2157.0L391.1 2157.4L395.8 2157.7L400.5 2158.1L405.2 2158.4L409.9 2158.7L414.6 2159.1L419.2 2159.4L423.9 2159.8L428.6 2160.1L433.3 2160.5L438.0 2160.8L442.7 2161.2L447.4 2161.5L452.1 2161.9L456.8 2162.2L461.4 2162.6L466.1 2162.9L470.8 2163.3L475.5 2163.7L480.2 2164.0L484.9 2164.4L489.6 2164.8L494.3 2165.1L498.9 2165.5L503.6 2165.9L508.3 2166.2L513.0 2166.6L517.7 2167.0L522.4 2167.4L527.1 2167.8L531.8 2168.1L536.5 2168.5L541.1 2168.9L545.8 2169.3L550.5 2169.7L555.2 2170.1L559.9 2170.4L564.6 2170.8L569.3 2171.2L574.0 2171.6L578.7 2172.0L583.3 2172.4L588.0 2172.8L592.7 2173.2L597.4 2173.6L602.1 2174.0L606.8 2174.4L611.5 2174.8L616.2 2175.3L620.9 2175.7L625.5 2176.1L630.2 2176.5L634.9 2176.9L639.6 2177.3L644.3 2177.7L649.0 2178.1L653.7 2178.5L658.4 2179.0L663.1 2179.4L667.7 2179.8L672.4 2180.2L677.1 2180.6L681.8 2181.1L686.5 2181.5L691.2 2181.9L695.9 2182.4L700.6 2182.8L705.2 2183.2L709.9 2183.6L714.6 2184.1L719.3 2184.5L724.0 2184.9L728.7 2185.3L733.4 2185.7L738.1 2186.1L742.8 2186.5L747.4 2186.9L752.1 2187.3L756.8 2187.7L761.5 2188.1L766.2 2188.5L770.9 2188.9L775.6 2189.3L780.3 2189.7L785.0 2190.1L789.6 2190.5L794.3 2190.9L799.0 2191.2L803.7 2191.6L808.4 2192.0L813.1 2192.3L817.8 2192.7L822.5 2193.0L827.2 2193.3L831.8 2193.6L836.5 2193.9L841.2 2194.2L845.9 2194.5L850.6 2194.8L855.3 2195.0L860.0 2195.3L864.7 2195.5L869.4 2195.7L874.0 2195.9L878.7 2196.1L883.4 2196.3L888.1 2196.6L892.8 2196.8L897.5 2197.0L902.2 2197.2L906.9 2197.4L911.5 2197.5L916.2 2197.7L920.9 2198.0L925.6 2198.2L930.3 2198.4L935.0 2198.6L939.7 2198.8L944.4 2199.0L949.1 2199.2L953.7 2199.5L958.4 2199.7L963.1 2199.9L967.8 2200.1L972.5 2200.4L977.2 2200.6L981.9 2200.8L986.6 2201.1L991.3 2201.3L995.9 2201.5L1000.6 2201.7L1005.3 2202.0L1010.0 2202.2L1014.7 2202.4L1019.4 2202.6L1024.1 2202.8L1028.8 2203.0L1033.5 2203.2L1038.1 2203.4L1042.8 2203.6L1047.5 2203.7L1052.2 2203.9L1056.9 2204.1L1061.6 2204.3L1066.3 2204.5L1071.0 2204.7L1075.7 2204.9L1080.3 2205.1L1085.0 2205.2L1089.7 2205.4L1094.4 2205.5L1099.1 2205.7L1103.8 2205.8L1108.5 2205.9L1113.2 2206.0L1117.8 2206.1L1122.5 2206.2L1127.2 2206.3L1131.9 2206.3L1136.6 2206.4L1141.3 2206.5L1146.0 2206.5L1150.7 2206.6L1155.4 2206.6L1160.0 2206.7L1164.7 2206.7L1169.4 2206.8L1174.1 2206.8L1178.8 2206.8L1183.5 2206.9L1188.2 2206.9L1192.9 2206.9L1197.6 2207.0L1202.2 2207.0L1206.9 2207.0L1211.6 2207.0L1216.3 2207.0L1221.0 2207.0L1225.7 2207.0L1230.4 2206.9L1235.1 2206.9L1239.8 2206.9L1244.4 2206.8L1249.1 2206.7L1253.8 2206.6L1258.5 2206.5L1263.2 2206.4L1267.9 2206.3L1272.6 2206.2L1277.3 2206.0L1282.0 2205.9L1286.6 2205.7L1291.3 2205.6L1296.0 2205.4L1300.7 2205.2L1305.4 2205.1L1310.1 2204.9L1314.8 2204.6L1319.5 2204.4L1324.1 2204.1L1328.8 2203.7L1333.5 2203.3L1338.2 2202.9L1342.9 2202.5L1347.6 2202.0L1352.3 2201.5L1357.0 2200.9L1361.7 2200.4L1366.3 2199.7L1371.0 2199.1L1375.7 2198.3L1380.4 2197.6L1385.1 2196.8L1389.8 2196.1L1394.5 2195.3L1399.2 2194.6L1403.9 2193.9L1408.5 2193.3L1413.2 2192.7L1417.9 2192.0L1422.6 2191.4L1427.3 2190.8L1432.0 2190.2L1436.7 2189.6L1441.4 2189.0L1446.1 2188.4L1450.7 2187.7L1455.4 2187.1L1460.1 2186.5L1464.8 2185.8L1469.5 2185.2L1474.2 2184.5L1478.9 2183.8L1483.6 2183.1L1488.3 2182.4L1492.9 2181.6L1497.6 2180.8L1502.3 2180.0L1507.0 2179.1L1511.7 2178.2L1516.4 2177.3L1521.1 2176.3L1525.8 2175.3L1530.4 2174.2L1535.1 2173.2L1539.8 2172.1L1544.5 2170.9L1549.2 2169.8L1553.9 2168.6L1558.6 2167.4L1563.3 2166.2L1568.0 2165.0L1572.6 2163.8L1577.3 2162.5L1582.0 2161.3L1586.7 2160.0L1591.4 2158.8L1596.1 2157.5L1600.8 2156.2L1605.5 2154.9L1610.2 2153.5L1614.8 2152.1L1619.5 2150.7L1624.2 2149.3L1628.9 2147.9L1633.6 2146.5L1638.3 2145.1L1643.0 2143.7L1647.7 2142.3L1652.4 2140.9L1657.0 2139.5L1661.7 2138.0L1666.4 2136.6L1671.1 2135.2L1675.8 2133.8L1680.5 2132.3L1685.2 2130.8L1689.9 2129.3L1694.6 2127.8L1699.2 2126.2L1703.9 2124.7L1708.6 2123.1L1713.3 2121.5L1718.0 2119.9L1722.7 2118.3L1727.4 2116.7L1732.1 2115.1L1736.7 2113.4L1741.4 2111.7L1746.1 2110.1L1750.8 2108.4L1755.5 2106.7L1760.2 2105.0L1764.9 2103.2L1769.6 2101.5L1774.3 2099.7L1778.9 2097.9L1783.6 2096.1L1788.3 2094.3L1793.0 2092.4L1797.7 2090.5L1802.4 2088.6L1807.1 2086.7L1811.8 2084.7L1816.5 2082.7L1821.1 2080.7L1825.8 2078.7L1830.5 2076.7L1835.2 2074.7L1839.9 2072.7L1844.6 2070.7L1849.3 2068.8L1854.0 2066.8L1858.7 2064.9L1863.3 2063.0L1868.0 2061.1L1872.7 2059.2L1877.4 2057.4L1882.1 2055.6L1886.8 2053.8L1891.5 2052.1L1896.2 2050.3L1900.9 2048.6L1905.5 2046.8L1910.2 2045.1L1914.9 2043.4L1919.6 2041.7L1924.3 2040.0L1929.0 2038.3L1933.7 2036.7L1938.4 2035.0L1943.0 2033.3L1947.7 2031.7L1952.4 2030.1L1957.1 2028.5L1961.8 2026.8L1966.5 2025.2L1971.2 2023.7L1975.9 2022.1L1980.6 2020.5L1985.2 2018.9L1989.9 2017.4L1994.6 2015.8L1999.3 2014.2L2004.0 2012.7L2008.7 2011.2L2013.4 2009.6L2018.1 2008.1L2022.8 2006.6L2027.4 2005.2L2032.1 2003.7L2036.8 2002.2L2041.5 2000.8L2046.2 1999.4L2050.9 1998.0L2055.6 1996.6L2060.3 1995.3L2065.0 1993.9L2069.6 1992.6L2074.3 1991.2L2079.0 1989.9L2083.7 1988.6L2088.4 1987.2L2093.1 1985.9L2097.8 1984.6L2102.5 1983.3L2107.2 1982.1L2111.8 1980.8L2116.5 1979.6L2121.2 1978.4L2125.9 1977.3L2130.6 1976.2L2135.3 1975.1L2140.0 1974.1L2144.7 1973.1L2149.3 1972.2L2154.0 1971.3L2158.7 1970.4L2163.4 1969.6L2168.1 1968.8L2172.8 1967.9L2177.5 1967.1L2182.2 1966.4L2186.9 1965.6L2191.5 1965.0L2196.2 1964.4L2200.9 1963.9L2205.6 1963.5L2210.3 1963.2L2215.0 1963.0L2219.7 1962.9L2224.4 1963.0L2229.1 1963.1L2233.7 1963.4L2238.4 1963.6L2243.1 1964.0L2247.8 1964.4L2252.5 1964.8L2257.2 1965.3L2261.9 1965.9L2266.6 1966.6L2271.3 1967.4L2275.9 1968.2L2280.6 1969.2L2285.3 1970.2L2290.0 1971.3L2294.7 1972.4L2299.4 1973.6L2304.1 1974.9L2308.8 1976.2L2313.5 1977.5L2318.1 1978.9L2322.8 1980.4L2327.5 1981.8L2332.2 1983.3L2336.9 1984.8L2341.6 1986.3L2346.3 1987.9L2351.0 1989.5L2355.6 1991.2L2360.3 1993.0L2365.0 1994.8L2369.7 1996.7L2374.4 1998.7L2379.1 2000.8L2383.8 2003.0L2388.5 2005.2L2393.2 2007.5L2397.8 2009.9L2402.5 2012.4L2407.2 2014.9L2411.9 2017.6L2416.6 2020.3L2421.3 2023.1L2426.0 2026.0L2430.7 2029.1L2435.4 2032.3L2440.0 2035.9L2444.7 2039.7L2449.4 2043.9L2454.1 2048.3L2458.8 2052.8L2463.5 2057.4L2468.2 2061.8L2472.9 2066.0L2477.6 2069.8L2482.2 2073.3L2486.9 2076.4L2491.6 2079.3L2496.3 2082.0L2501.0 2084.5L2505.7 2086.8L2510.4 2089.0L2515.1 2091.0L2519.8 2092.9L2524.4 2094.6L2529.1 2096.2L2533.8 2097.6L2538.5 2098.9L2543.2 2100.1L2547.9 2101.3L2552.6 2102.5L2557.3 2103.5L2561.9 2104.4L2566.6 2105.2L2571.3 2105.9L2576.0 2106.3L2580.7 2106.6L2585.4 2106.7L2590.1 2106.5L2594.8 2106.2L2599.5 2105.6L2604.1 2104.8L2608.8 2103.8L2613.5 2102.7L2618.2 2101.4L2622.9 2099.9L2627.6 2098.1L2632.3 2096.0L2637.0 2093.5L2641.7 2090.8L2646.3 2087.7L2651.0 2084.4L2655.7 2081.0L2660.4 2077.6L2665.1 2074.1L2669.8 2070.6L2674.5 2067.0L2679.2 2063.3L2683.9 2059.5L2688.5 2055.7L2693.2 2052.0L2697.9 2048.5L2702.6 2045.4L2707.3 2042.6L2712.0 2040.4L2716.7 2038.7L2721.4 2037.5L2726.1 2036.9L2730.7 2036.7L2735.4 2037.0L2740.1 2037.7L2744.8 2038.7L2749.5 2040.0L2754.2 2041.4L2758.9 2042.8L2763.6 2044.2L2768.2 2045.5L2772.9 2046.7L2777.6 2047.8L2782.3 2048.7L2787.0 2049.4L2791.7 2049.7L2796.4 2049.7L2801.1 2049.2L2805.8 2048.2L2810.4 2046.5L2815.1 2044.0L2819.8 2040.7L2824.5 2036.5L2829.2 2031.4L2833.9 2025.3L2838.6 2018.3L2843.3 2010.2L2848.0 2001.1L2852.6 1990.9L2857.3 1979.4L2862.0 1966.7L2866.7 1952.7L2871.4 1937.7L2876.1 1921.8L2880.8 1904.9L2885.5 1887.3L2890.2 1869.1L2894.8 1850.4L2899.5 1831.2L2904.2 1811.2L2908.9 1790.2L2913.6 1768.0L2918.3 1744.6L2923.0 1719.7L2927.7 1693.1L2932.4 1664.3L2937.0 1632.9L2941.7 1598.7L2946.4 1562.0L2951.1 1523.6L2953.4 1504.0"/>
<path stroke="#832db6" d="M374.7 2206.6L377.0 2206.1L381.7 2205.3L386.4 2204.4L391.1 2203.5L395.8 2202.7L400.5 2201.8L405.2 2201.0L409.9 2200.1L414.6 2199.2L419.2 2198.4L423.9 2197.5L428.6 2196.7L433.3 2195.8L438.0 2194.9L442.7 2194.0L447.4 2193.2L452.1 2192.3L456.8 2191.4L461.4 2190.5L466.1 2189.6L470.8 2188.7L475.5 2187.7L480.2 2186.8L484.9 2185.9L489.6 2185.0L494.3 2184.0L498.9 2183.1L503.6 2182.1L508.3 2181.2L513.0 2180.2L517.7 2179.2L522.4 2178.3L527.1 2177.3L531.8 2176.3L536.5 2175.4L541.1 2174.4L545.8 2173.4L550.5 2172.5L555.2 2171.5L559.9 2170.6L564.6 2169.6L569.3 2168.6L574.0 2167.7L578.7 2166.7L583.3 2165.8L588.0 2164.8L592.7 2163.8L597.4 2162.9L602.1 2161.9L606.8 2161.0L611.5 2160.0L616.2 2159.0L620.9 2158.1L625.5 2157.1L630.2 2156.2L634.9 2155.2L639.6 2154.3L644.3 2153.3L649.0 2152.4L653.7 2151.4L658.4 2150.5L663.1 2149.6L667.7 2148.6L672.4 2147.7L677.1 2146.7L681.8 2145.8L686.5 2144.9L691.2 2143.9L695.9 2143.0L700.6 2142.1L705.2 2141.2L709.9 2140.2L714.6 2139.3L719.3 2138.4L724.0 2137.4L728.7 2136.5L733.4 2135.6L738.1 2134.6L742.8 2133.7L747.4 2132.7L752.1 2131.8L756.8 2130.8L761.5 2129.9L766.2 2128.9L770.9 2127.9L775.6 2127.0L780.3 2126.0L785.0 2125.0L789.6 2124.0L794.3 2123.1L799.0 2122.1L803.7 2121.1L808.4 2120.1L813.1 2119.1L817.8 2118.1L822.5 2117.1L827.2 2116.2L831.8 2115.2L836.5 2114.2L841.2 2113.2L845.9 2112.3L850.6 2111.3L855.3 2110.4L860.0 2109.4L864.7 2108.5L869.4 2107.5L874.0 2106.6L878.7 2105.6L883.4 2104.7L888.1 2103.8L892.8 2102.8L897.5 2101.9L902.2 2100.9L906.9 2099.9L911.5 2099.0L916.2 2098.0L920.9 2097.0L925.6 2096.0L930.3 2095.0L935.0 2094.0L939.7 2093.0L944.4 2092.0L949.1 2090.9L953.7 2089.9L958.4 2088.8L963.1 2087.7L967.8 2086.6L972.5 2085.5L977.2 2084.4L981.9 2083.3L986.6 2082.2L991.3 2081.1L995.9 2080.0L1000.6 2078.9L1005.3 2077.7L1010.0 2076.6L1014.7 2075.5L1019.4 2074.4L1024.1 2073.3L1028.8 2072.2L1033.5 2071.1L1038.1 2070.0L1042.8 2068.9L1047.5 2067.8L1052.2 2066.7L1056.9 2065.6L1061.6 2064.5L1066.3 2063.4L1071.0 2062.3L1075.7 2061.2L1080.3 2060.1L1085.0 2059.0L1089.7 2057.9L1094.4 2056.8L1099.1 2055.7L1103.8 2054.6L1108.5 2053.5L1113.2 2052.4L1117.8 2051.2L1122.5 2050.1L1127.2 2049.0L1131.9 2047.9L1136.6 2046.8L1141.3 2045.6L1146.0 2044.5L1150.7 2043.4L1155.4 2042.3L1160.0 2041.1L1164.7 2040.0L1169.4 2038.9L1174.1 2037.7L1178.8 2036.6L1183.5 2035.5L1188.2 2034.3L1192.9 2033.2L1197.6 2032.1L1202.2 2031.0L1206.9 2029.8L1211.6 2028.7L1216.3 2027.6L1221.0 2026.5L1225.7 2025.4L1230.4 2024.2L1235.1 2023.1L1239.8 2022.0L1244.4 2020.9L1249.1 2019.8L1253.8 2018.7L1258.5 2017.6L1263.2 2016.5L1267.9 2015.4L1272.6 2014.3L1277.3 2013.2L1282.0 2012.1L1286.6 2011.0L1291.3 2009.9L1296.0 2008.8L1300.7 2007.7L1305.4 2006.6L1310.1 2005.5L1314.8 2004.5L1319.5 2003.4L1324.1 2002.3L1328.8 2001.2L1333.5 2000.1L1338.2 1999.0L1342.9 1998.0L1347.6 1996.9L1352.3 1995.8L1357.0 1994.7L1361.7 1993.7L1366.3 1992.6L1371.0 1991.5L1375.7 1990.4L1380.4 1989.4L1385.1 1988.3L1389.8 1987.3L1394.5 1986.2L1399.2 1985.2L1403.9 1984.1L1408.5 1983.1L1413.2 1982.0L1417.9 1981.0L1422.6 1980.0L1427.3 1979.0L1432.0 1977.9L1436.7 1976.9L1441.4 1975.9L1446.1 1974.9L1450.7 1973.9L1455.4 1972.9L1460.1 1971.9L1464.8 1970.9L1469.5 1969.8L1474.2 1968.8L1478.9 1967.8L1483.6 1966.8L1488.3 1965.8L1492.9 1964.8L1497.6 1963.8L1502.3 1962.8L1507.0 1961.8L1511.7 1960.7L1516.4 1959.7L1521.1 1958.7L1525.8 1957.7L1530.4 1956.7L1535.1 1955.6L1539.8 1954.6L1544.5 1953.6L1549.2 1952.6L1553.9 1951.6L1558.6 1950.6L1563.3 1949.5L1568.0 1948.5L1572.6 1947.5L1577.3 1946.5L1582.0 1945.5L1586.7 1944.5L1591.4 1943.5L1596.1 1942.5L1600.8 1941.6L1605.5 1940.6L1610.2 1939.6L1614.8 1938.6L1619.5 1937.6L1624.2 1936.6L1628.9 1935.7L1633.6 1934.7L1638.3 1933.7L1643.0 1932.8L1647.7 1931.8L1652.4 1930.9L1657.0 1929.9L1661.7 1929.0L1666.4 1928.1L1671.1 1927.1L1675.8 1926.2L1680.5 1925.3L1685.2 1924.4L1689.9 1923.5L1694.6 1922.7L1699.2 1921.8L1703.9 1920.9L1708.6 1920.1L1713.3 1919.2L1718.0 1918.4L1722.7 1917.6L1727.4 1916.8L1732.1 1915.9L1736.7 1915.1L1741.4 1914.3L1746.1 1913.5L1750.8 1912.7L1755.5 1912.0L1760.2 1911.2L1764.9 1910.4L1769.6 1909.6L1774.3 1908.9L1778.9 1908.1L1783.6 1907.4L1788.3 1906.6L1793.0 1905.9L1797.7 1905.1L1802.4 1904.4L1807.1 1903.7L1811.8 1902.9L1816.5 1902.2L1821.1 1901.5L1825.8 1900.8L1830.5 1900.1L1835.2 1899.4L1839.9 1898.7L1844.6 1898.1L1849.3 1897.4L1854.0 1896.7L1858.7 1896.1L1863.3 1895.4L1868.0 1894.8L1872.7 1894.2L1877.4 1893.6L1882.1 1892.9L1886.8 1892.3L1891.5 1891.8L1896.2 1891.2L1900.9 1890.6L1905.5 1890.0L1910.2 1889.4L1914.9 1888.9L1919.6 1888.3L1924.3 1887.8L1929.0 1887.2L1933.7 1886.7L1938.4 1886.2L1943.0 1885.6L1947.7 1885.1L1952.4 1884.6L1957.1 1884.1L1961.8 1883.6L1966.5 1883.0L1971.2 1882.5L1975.9 1882.0L1980.6 1881.5L1985.2 1881.0L1989.9 1880.4L1994.6 1879.9L1999.3 1879.4L2004.0 1878.9L2008.7 1878.4L2013.4 1877.9L2018.1 1877.4L2022.8 1876.9L2027.4 1876.5L2032.1 1876.0L2036.8 1875.6L2041.5 1875.2L2046.2 1874.8L2050.9 1874.5L2055.6 1874.1L2060.3 1873.8L2065.0 1873.5L2069.6 1873.2L2074.3 1873.0L2079.0 1872.7L2083.7 1872.4L2088.4 1872.2L2093.1 1872.0L2097.8 1871.8L2102.5 1871.5L2107.2 1871.4L2111.8 1871.2L2116.5 1871.0L2121.2 1870.8L2125.9 1870.7L2130.6 1870.6L2135.3 1870.5L2140.0 1870.4L2144.7 1870.3L2149.3 1870.3L2154.0 1870.2L2158.7 1870.2L2163.4 1870.2L2168.1 1870.3L2172.8 1870.3L2177.5 1870.4L2182.2 1870.5L2186.9 1870.6L2191.5 1870.7L2196.2 1870.8L2200.9 1870.9L2205.6 1871.1L2210.3 1871.3L2215.0 1871.4L2219.7 1871.6L2224.4 1871.8L2229.1 1872.0L2233.7 1872.2L2238.4 1872.5L2243.1 1872.7L2247.8 1873.0L2252.5 1873.2L2257.2 1873.5L2261.9 1873.8L2266.6 1874.2L2271.3 1874.5L2275.9 1874.9L2280.6 1875.3L2285.3 1875.8L2290.0 1876.2L2294.7 1876.7L2299.4 1877.3L2304.1 1877.8L2308.8 1878.4L2313.5 1878.9L2318.1 1879.5L2322.8 1880.2L2327.5 1880.8L2332.2 1881.5L2336.9 1882.2L2341.6 1883.0L2346.3 1883.8L2351.0 1884.6L2355.6 1885.5L2360.3 1886.4L2365.0 1887.4L2369.7 1888.4L2374.4 1889.5L2379.1 1890.6L2383.8 1891.7L2388.5 1892.9L2393.2 1894.0L2397.8 1895.3L2402.5 1896.5L2407.2 1897.7L2411.9 1898.9L2416.6 1900.1L2421.3 1901.3L2426.0 1902.5L2430.7 1903.7L2435.4 1904.9L2440.0 1906.0L2444.7 1907.2L2449.4 1908.3L2454.1 1909.4L2458.8 1910.6L2463.5 1911.7L2468.2 1912.8L2472.9 1913.9L2477.6 1915.0L2482.2 1916.1L2486.9 1917.2L2491.6 1918.2L2496.3 1919.3L2501.0 1920.3L2505.7 1921.4L2510.4 1922.4L2515.1 1923.4L2519.8 1924.3L2524.4 1925.3L2529.1 1926.2L2533.8 1927.1L2538.5 1928.0L2543.2 1928.9L2547.9 1929.7L2552.6 1930.6L2557.3 1931.4L2561.9 1932.2L2566.6 1933.0L2571.3 1933.8L2576.0 1934.6L2580.7 1935.3L2585.4 1936.1L2590.1 1936.8L2594.8 1937.5L2599.5 1938.2L2604.1 1938.9L2608.8 1939.6L2613.5 1940.2L2618.2 1940.9L2622.9 1941.5L2627.6 1942.1L2632.3 1942.7L2637.0 1943.3L2641.7 1943.9L2646.3 1944.4L2651.0 1945.0L2655.7 1945.6L2660.4 1946.1L2665.1 1946.6L2669.8 1947.1L2674.5 1947.6L2679.2 1948.1L2683.9 1948.6L2688.5 1949.0L2693.2 1949.4L2697.9 1949.8L2702.6 1950.2L2707.3 1950.5L2712.0 1950.8L2716.7 1951.1L2721.4 1951.4L2726.1 1951.7L2730.7 1951.9L2735.4 1952.1L2740.1 1952.3L2744.8 1952.4L2749.5 1952.6L2754.2 1952.7L2758.9 1952.7L2763.6 1952.7L2768.2 1952.6L2772.9 1952.5L2777.6 1952.3L2782.3 1952.1L2787.0 1951.8L2791.7 1951.4L2796.4 1950.9L2801.1 1950.3L2805.8 1949.7L2810.4 1948.9L2815.1 1948.1L2819.8 1947.2L2824.5 1946.1L2829.2 1944.9L2833.9 1943.6L2838.6 1942.2L2843.3 1940.7L2848.0 1939.1L2852.6 1937.4L2857.3 1935.5L2862.0 1933.6L2866.7 1931.5L2871.4 1929.3L2876.1 1927.1L2880.8 1924.7L2885.5 1922.2L2890.2 1919.6L2894.8 1916.9L2899.5 1914.1L2904.2 1911.2L2908.9 1908.3L2913.6 1905.2L2918.3 1902.0L2923.0 1898.8L2927.7 1895.5L2932.4 1892.1L2937.0 1888.6L2941.7 1885.2L2946.4 1881.7L2951.1 1878.2L2953.4 1876.4"/>
<path stroke="#92dadd" d="M374.7 2115.9L377.0 2116.0L381.7 2116.1L386.4 2116.2L391.1 2116.3L395.8 2116.4L400.5 2116.5L405.2 2116.6L409.9 2116.7L414.6 2116.8L419.2 2116.9L423.9 2117.0L428.6 2117.2L433.3 2117.3L438.0 2117.4L442.7 2117.5L447.4 2117.6L452.1 2117.7L456.8 2117.9L461.4 2118.0L466.1 2118.1L470.8 2118.2L475.5 2118.4L480.2 2118.5L484.9 2118.7L489.6 2118.8L494.3 2119.0L498.9 2119.1L503.6 2119.3L508.3 2119.4L513.0 2119.6L517.7 2119.8L522.4 2119.9L527.1 2120.1L531.8 2120.3L536.5 2120.5L541.1 2120.6L545.8 2120.8L550.5 2121.0L555.2 2121.2L559.9 2121.3L564.6 2121.5L569.3 2121.7L574.0 2121.9L578.7 2122.0L583.3 2122.2L588.0 2122.4L592.7 2122.6L597.4 2122.7L602.1 2122.9L606.8 2123.1L611.5 2123.3L616.2 2123.5L620.9 2123.7L625.5 2123.9L630.2 2124.1L634.9 2124.3L639.6 2124.5L644.3 2124.7L649.0 2124.9L653.7 2125.1L658.4 2125.3L663.1 2125.5L667.7 2125.7L672.4 2125.9L677.1 2126.2L681.8 2126.4L686.5 2126.6L691.2 2126.8L695.9 2127.1L700.6 2127.3L705.2 2127.6L709.9 2127.8L714.6 2128.0L719.3 2128.3L724.0 2128.5L728.7 2128.8L733.4 2129.0L738.1 2129.3L742.8 2129.5L747.4 2129.8L752.1 2130.1L756.8 2130.3L761.5 2130.6L766.2 2130.9L770.9 2131.1L775.6 2131.4L780.3 2131.7L785.0 2132.0L789.6 2132.2L794.3 2132.5L799.0 2132.8L803.7 2133.1L808.4 2133.4L813.1 2133.7L817.8 2134.0L822.5 2134.3L827.2 2134.6L831.8 2134.9L836.5 2135.2L841.2 2135.5L845.9 2135.9L850.6 2136.2L855.3 2136.5L860.0 2136.9L864.7 2137.2L869.4 2137.6L874.0 2138.0L878.7 2138.3L883.4 2138.7L888.1 2139.1L892.8 2139.4L897.5 2139.8L902.2 2140.2L906.9 2140.6L911.5 2140.9L916.2 2141.3L920.9 2141.7L925.6 2142.0L930.3 2142.4L935.0 2142.8L939.7 2143.1L944.4 2143.5L949.1 2143.8L953.7 2144.2L958.4 2144.5L963.1 2144.8L967.8 2145.2L972.5 2145.5L977.2 2145.9L981.9 2146.2L986.6 2146.5L991.3 2146.9L995.9 2147.2L1000.6 2147.5L1005.3 2147.9L1010.0 2148.2L1014.7 2148.6L1019.4 2148.9L1024.1 2149.3L1028.8 2149.6L1033.5 2150.0L1038.1 2150.3L1042.8 2150.7L1047.5 2151.1L1052.2 2151.4L1056.9 2151.8L1061.6 2152.2L1066.3 2152.5L1071.0 2152.9L1075.7 2153.3L1080.3 2153.6L1085.0 2154.0L1089.7 2154.4L1094.4 2154.8L1099.1 2155.2L1103.8 2155.5L1108.5 2155.9L1113.2 2156.3L1117.8 2156.7L1122.5 2157.1L1127.2 2157.5L1131.9 2157.9L1136.6 2158.4L1141.3 2158.8L1146.0 2159.2L1150.7 2159.6L1155.4 2160.0L1160.0 2160.5L1164.7 2160.9L1169.4 2161.3L1174.1 2161.8L1178.8 2162.2L1183.5 2162.6L1188.2 2163.1L1192.9 2163.5L1197.6 2164.0L1202.2 2164.4L1206.9 2164.9L1211.6 2165.3L1216.3 2165.8L1221.0 2166.2L1225.7 2166.7L1230.4 2167.2L1235.1 2167.6L1239.8 2168.1L1244.4 2168.5L1249.1 2169.0L1253.8 2169.5L1258.5 2169.9L1263.2 2170.4L1267.9 2170.9L1272.6 2171.4L1277.3 2171.9L1282.0 2172.3L1286.6 2172.8L1291.3 2173.3L1296.0 2173.8L1300.7 2174.3L1305.4 2174.8L1310.1 2175.3L1314.8 2175.9L1319.5 2176.4L1324.1 2176.9L1328.8 2177.5L1333.5 2178.0L1338.2 2178.6L1342.9 2179.2L1347.6 2179.8L1352.3 2180.3L1357.0 2180.9L1361.7 2181.5L1366.3 2182.1L1371.0 2182.6L1375.7 2183.2L1380.4 2183.8L1385.1 2184.3L1389.8 2184.8L1394.5 2185.3L1399.2 2185.8L1403.9 2186.3L1408.5 2186.8L1413.2 2187.2L1417.9 2187.7L1422.6 2188.1L1427.3 2188.6L1432.0 2189.0L1436.7 2189.4L1441.4 2189.8L1446.1 2190.2L1450.7 2190.6L1455.4 2191.0L1460.1 2191.4L1464.8 2191.8L1469.5 2192.1L1474.2 2192.5L1478.9 2192.8L1483.6 2193.1L1488.3 2193.4L1492.9 2193.7L1497.6 2194.0L1502.3 2194.2L1507.0 2194.5L1511.7 2194.7L1516.4 2194.9L1521.1 2195.1L1525.8 2195.3L1530.4 2195.5L1535.1 2195.6L1539.8 2195.8L1544.5 2196.0L1549.2 2196.1L1553.9 2196.3L1558.6 2196.5L1563.3 2196.6L1568.0 2196.8L1572.6 2197.0L1577.3 2197.2L1582.0 2197.4L1586.7 2197.6L1591.4 2197.8L1596.1 2198.0L1600.8 2198.3L1605.5 2198.6L1610.2 2198.9L1614.8 2199.2L1619.5 2199.5L1624.2 2199.8L1628.9 2200.1L1633.6 2200.3L1638.3 2200.6L1643.0 2200.8L1647.7 2201.0L1652.4 2201.2L1657.0 2201.4L1661.7 2201.6L1666.4 2201.7L1671.1 2201.9L1675.8 2202.1L1680.5 2202.2L1685.2 2202.4L1689.9 2202.6L1694.6 2202.7L1699.2 2202.9L1703.9 2203.1L1708.6 2203.2L1713.3 2203.4L1718.0 2203.6L1722.7 2203.8L1727.4 2204.0L1732.1 2204.2L1736.7 2204.4L1741.4 2204.6L1746.1 2204.8L1750.8 2205.0L1755.5 2205.1L1760.2 2205.3L1764.9 2205.5L1769.6 2205.6L1774.3 2205.8L1778.9 2205.9L1783.6 2206.0L1788.3 2206.1L1793.0 2206.2L1797.7 2206.3L1802.4 2206.4L1807.1 2206.4L1811.8 2206.5L1813.6 2206.5M1898.5 2206.2L1900.9 2206.0L1905.5 2205.7L1910.2 2205.2L1914.9 2204.7L1919.6 2204.0L1924.3 2203.3L1929.0 2202.6L1933.7 2202.0L1938.4 2201.3L1943.0 2200.8L1947.7 2200.3L1952.4 2199.8L1957.1 2199.4L1961.8 2199.0L1966.5 2198.6L1971.2 2198.0L1975.9 2197.5L1980.6 2196.8L1985.2 2195.9L1989.9 2195.0L1994.6 2193.8L1999.3 2192.5L2004.0 2191.1L2008.7 2189.5L2013.4 2187.8L2018.1 2185.9L2022.8 2184.0L2027.4 2181.9L2032.1 2179.8L2036.8 2177.6L2041.5 2175.4L2046.2 2173.1L2050.9 2170.7L2055.6 2168.3L2060.3 2165.9L2065.0 2163.3L2069.6 2160.7L2074.3 2157.9L2079.0 2155.1L2083.7 2152.0L2088.4 2148.9L2093.1 2145.5L2097.8 2142.0L2102.5 2138.3L2107.2 2134.4L2111.8 2130.3L2116.5 2126.0L2121.2 2121.4L2125.9 2116.7L2130.6 2111.8L2135.3 2106.8L2140.0 2101.6L2144.7 2096.4L2149.3 2091.1L2154.0 2085.8L2158.7 2080.4L2163.4 2074.9L2168.1 2069.4L2172.8 2063.8L2177.5 2058.1L2182.2 2052.1L2186.9 2046.1L2191.5 2039.8L2196.2 2033.3L2200.9 2026.5L2205.6 2019.6L2210.3 2012.5L2215.0 2005.2L2219.7 1997.9L2224.4 1990.4L2229.1 1982.9L2233.7 1975.2L2238.4 1967.5L2243.1 1959.5L2247.8 1951.3L2252.5 1942.7L2257.2 1933.7L2261.9 1924.2L2266.6 1914.2L2271.3 1903.6L2275.9 1892.5L2280.6 1880.9L2285.3 1869.0L2290.0 1857.0L2294.7 1845.1L2299.4 1833.4L2304.1 1821.9L2308.8 1810.4L2313.5 1798.9L2318.1 1787.3L2322.8 1775.3L2327.5 1763.1L2332.2 1750.6L2336.9 1737.7L2341.6 1724.4L2346.3 1710.8L2351.0 1696.9L2355.6 1682.8L2360.3 1668.4L2365.0 1653.7L2369.7 1638.9L2374.4 1623.8L2379.1 1608.4L2383.8 1592.7L2388.5 1576.6L2393.2 1560.1L2397.8 1543.3L2402.5 1526.1L2407.2 1508.7L2411.9 1491.0L2416.6 1473.2L2421.3 1455.2L2426.0 1437.1L2430.7 1418.9L2435.4 1400.7L2440.0 1382.7L2444.7 1365.0L2449.4 1347.7L2454.1 1330.8L2458.8 1313.9L2463.5 1296.8L2468.2 1279.4L2472.9 1261.5L2477.6 1243.1L2482.2 1224.4L2486.9 1205.4L2491.6 1186.1L2496.3 1166.8L2501.0 1147.3L2505.7 1127.8L2510.4 1108.1L2515.1 1088.3L2519.8 1068.3L2524.4 1048.2L2529.1 1027.9L2533.8 1007.5L2538.5 986.9L2543.2 966.2L2547.9 945.3L2552.6 924.4L2557.3 903.3L2561.9 882.1L2566.6 860.8L2571.3 839.2L2576.0 817.7L2580.7 796.2L2585.4 775.0L2590.1 754.3L2594.8 734.1L2599.5 714.5L2604.1 695.5L2608.8 677.0L2613.5 658.7L2618.2 640.7L2622.9 622.8L2627.6 605.0L2632.3 587.2L2637.0 569.5L2641.7 552.0L2646.3 534.8L2651.0 518.1L2655.7 501.8L2660.4 486.0L2665.1 470.5L2669.8 455.5L2674.5 440.9L2679.2 426.8L2683.9 413.3L2688.5 400.4L2693.2 388.3L2697.9 376.8L2702.6 366.0L2707.3 355.8L2712.0 346.0L2716.7 336.8L2721.4 328.2L2726.1 320.0L2730.7 312.3L2735.4 305.2L2740.1 298.6L2744.8 292.5L2749.5 286.9L2754.2 281.9L2758.9 277.3L2763.6 273.3L2768.2 269.8L2772.9 266.9L2777.6 264.6L2782.3 262.8L2787.0 261.6L2791.7 261.1L2796.4 261.2L2801.1 261.9L2805.8 263.3L2810.4 265.5L2815.1 268.3L2819.8 271.8L2824.5 276.1L2829.2 281.0L2833.9 286.6L2838.6 293.0L2843.3 299.9L2848.0 307.5L2852.6 315.7L2857.3 324.5L2862.0 333.9L2866.7 343.9L2871.4 354.4L2876.1 365.6L2880.8 377.4L2885.5 389.7L2890.2 402.7L2894.8 416.4L2899.5 430.6L2904.2 445.6L2908.9 461.3L2913.6 477.8L2918.3 495.1L2923.0 513.0L2927.7 531.7L2932.4 551.1L2937.0 571.2L2941.7 592.0L2946.4 613.4L2951.1 635.3L2953.4 646.3"/>
<path stroke="#6e7b89" d="M374.7 2206.6L377.0 2206.5L381.7 2206.3L386.4 2206.1L391.1 2205.9L395.8 2205.7L400.5 2205.5L405.2 2205.4L409.9 2205.2L414.6 2205.0L419.2 2204.8L423.9 2204.6L428.6 2204.5L433.3 2204.3L438.0 2204.1L442.7 2203.9L447.4 2203.7L452.1 2203.5L456.8 2203.3L461.4 2203.1L466.1 2202.9L470.8 2202.7L475.5 2202.4L480.2 2202.2L484.9 2202.0L489.6 2201.8L494.3 2201.5L498.9 2201.3L503.6 2201.0L508.3 2200.8L513.0 2200.5L517.7 2200.3L522.4 2200.0L527.1 2199.8L531.8 2199.5L536.5 2199.3L541.1 2199.0L545.8 2198.8L550.5 2198.5L555.2 2198.2L559.9 2198.0L564.6 2197.7L569.3 2197.5L574.0 2197.2L578.7 2197.0L583.3 2196.7L588.0 2196.4L592.7 2196.2L597.4 2195.9L602.1 2195.7L606.8 2195.4L611.5 2195.1L616.2 2194.9L620.9 2194.6L625.5 2194.4L630.2 2194.1L634.9 2193.8L639.6 2193.6L644.3 2193.3L649.0 2193.0L653.7 2192.8L658.4 2192.5L663.1 2192.3L667.7 2192.0L672.4 2191.7L677.1 2191.5L681.8 2191.2L686.5 2191.0L691.2 2190.7L695.9 2190.5L700.6 2190.2L705.2 2189.9L709.9 2189.7L714.6 2189.4L719.3 2189.2L724.0 2188.9L728.7 2188.6L733.4 2188.4L738.1 2188.1L742.8 2187.8L747.4 2187.6L752.1 2187.3L756.8 2187.0L761.5 2186.8L766.2 2186.5L770.9 2186.2L775.6 2185.9L780.3 2185.7L785.0 2185.4L789.6 2185.1L794.3 2184.8L799.0 2184.5L803.7 2184.3L808.4 2184.0L813.1 2183.7L817.8 2183.4L822.5 2183.1L827.2 2182.8L831.8 2182.5L836.5 2182.3L841.2 2182.0L845.9 2181.7L850.6 2181.4L855.3 2181.1L860.0 2180.8L864.7 2180.5L869.4 2180.2L874.0 2179.8L878.7 2179.5L883.4 2179.2L888.1 2178.9L892.8 2178.6L897.5 2178.3L902.2 2178.0L906.9 2177.7L911.5 2177.5L916.2 2177.2L920.9 2176.9L925.6 2176.6L930.3 2176.3L935.0 2176.0L939.7 2175.7L944.4 2175.4L949.1 2175.1L953.7 2174.7L958.4 2174.4L963.1 2174.1L967.8 2173.8L972.5 2173.4L977.2 2173.1L981.9 2172.8L986.6 2172.4L991.3 2172.1L995.9 2171.7L1000.6 2171.3L1005.3 2171.0L1010.0 2170.6L1014.7 2170.2L1019.4 2169.9L1024.1 2169.5L1028.8 2169.1L1033.5 2168.7L1038.1 2168.3L1042.8 2167.8L1047.5 2167.4L1052.2 2167.0L1056.9 2166.5L1061.6 2166.1L1066.3 2165.6L1071.0 2165.1L1075.7 2164.7L1080.3 2164.2L1085.0 2163.7L1089.7 2163.2L1094.4 2162.7L1099.1 2162.3L1103.8 2161.8L1108.5 2161.3L1113.2 2160.8L1117.8 2160.4L1122.5 2159.9L1127.2 2159.4L1131.9 2159.0L1136.6 2158.5L1141.3 2158.0L1146.0 2157.6L1150.7 2157.1L1155.4 2156.7L1160.0 2156.2L1164.7 2155.8L1169.4 2155.3L1174.1 2154.9L1178.8 2154.4L1183.5 2154.0L1188.2 2153.5L1192.9 2153.0L1197.6 2152.5L1202.2 2152.1L1206.9 2151.6L1211.6 2151.1L1216.3 2150.6L1221.0 2150.1L1225.7 2149.6L1230.4 2149.1L1235.1 2148.5L1239.8 2148.0L1244.4 2147.5L1249.1 2146.9L1253.8 2146.4L1258.5 2145.8L1263.2 2145.3L1267.9 2144.7L1272.6 2144.2L1277.3 2143.6L1282.0 2143.0L1286.6 2142.5L1291.3 2141.9L1296.0 2141.4L1300.7 2140.8L1305.4 2140.2L1310.1 2139.7L1314.8 2139.1L1319.5 2138.5L1324.1 2138.0L1328.8 2137.4L1333.5 2136.9L1338.2 2136.3L1342.9 2135.8L1347.6 2135.2L1352.3 2134.7L1357.0 2134.1L1361.7 2133.5L1366.3 2133.0L1371.0 2132.4L1375.7 2131.8L1380.4 2131.2L1385.1 2130.6L1389.8 2130.0L1394.5 2129.4L1399.2 2128.7L1403.9 2128.1L1408.5 2127.4L1413.2 2126.7L1417.9 2126.0L1422.6 2125.2L1427.3 2124.5L1432.0 2123.7L1436.7 2122.9L1441.4 2122.1L1446.1 2121.3L1450.7 2120.5L1455.4 2119.7L1460.1 2118.8L1464.8 2118.0L1469.5 2117.2L1474.2 2116.3L1478.9 2115.5L1483.6 2114.7L1488.3 2113.9L1492.9 2113.1L1497.6 2112.3L1502.3 2111.5L1507.0 2110.7L1511.7 2109.9L1516.4 2109.1L1521.1 2108.3L1525.8 2107.6L1530.4 2106.8L1535.1 2106.0L1539.8 2105.2L1544.5 2104.4L1549.2 2103.7L1553.9 2102.9L1558.6 2102.1L1563.3 2101.4L1568.0 2100.6L1572.6 2099.9L1577.3 2099.1L1582.0 2098.4L1586.7 2097.6L1591.4 2096.9L1596.1 2096.2L1600.8 2095.5L1605.5 2094.8L1610.2 2094.1L1614.8 2093.4L1619.5 2092.7L1624.2 2092.0L1628.9 2091.3L1633.6 2090.6L1638.3 2089.9L1643.0 2089.1L1647.7 2088.4L1652.4 2087.6L1657.0 2086.8L1661.7 2086.0L1666.4 2085.2L1671.1 2084.3L1675.8 2083.5L1680.5 2082.7L1685.2 2081.9L1689.9 2081.1L1694.6 2080.2L1699.2 2079.4L1703.9 2078.6L1708.6 2077.8L1713.3 2077.0L1718.0 2076.2L1722.7 2075.3L1727.4 2074.5L1732.1 2073.7L1736.7 2072.9L1741.4 2072.1L1746.1 2071.2L1750.8 2070.4L1755.5 2069.5L1760.2 2068.7L1764.9 2067.8L1769.6 2066.9L1774.3 2066.0L1778.9 2065.1L1783.6 2064.1L1788.3 2063.2L1793.0 2062.3L1797.7 2061.3L1802.4 2060.3L1807.1 2059.3L1811.8 2058.3L1816.5 2057.3L1821.1 2056.3L1825.8 2055.3L1830.5 2054.2L1835.2 2053.2L1839.9 2052.1L1844.6 2051.0L1849.3 2050.0L1854.0 2048.9L1858.7 2047.7L1863.3 2046.6L1868.0 2045.5L1872.7 2044.4L1877.4 2043.2L1882.1 2042.1L1886.8 2040.9L1891.5 2039.7L1896.2 2038.6L1900.9 2037.4L1905.5 2036.2L1910.2 2035.0L1914.9 2033.8L1919.6 2032.6L1924.3 2031.4L1929.0 2030.1L1933.7 2028.8L1938.4 2027.5L1943.0 2026.2L1947.7 2024.8L1952.4 2023.4L1957.1 2022.0L1961.8 2020.5L1966.5 2019.0L1971.2 2017.4L1975.9 2015.8L1980.6 2014.1L1985.2 2012.4L1989.9 2010.6L1994.6 2008.8L1999.3 2006.9L2004.0 2004.9L2008.7 2002.9L2013.4 2000.8L2018.1 1998.6L2022.8 1996.4L2027.4 1994.1L2032.1 1991.8L2036.8 1989.4L2041.5 1987.0L2046.2 1984.6L2050.9 1982.0L2055.6 1979.4L2060.3 1976.8L2065.0 1974.1L2069.6 1971.3L2074.3 1968.4L2079.0 1965.4L2083.7 1962.3L2088.4 1959.1L2093.1 1955.8L2097.8 1952.4L2102.5 1948.9L2107.2 1945.3L2111.8 1941.6L2116.5 1937.7L2121.2 1933.8L2125.9 1929.7L2130.6 1925.5L2135.3 1921.2L2140.0 1916.8L2144.7 1912.2L2149.3 1907.5L2154.0 1902.7L2158.7 1897.6L2163.4 1892.4L2168.1 1887.1L2172.8 1881.6L2177.5 1875.9L2182.2 1870.1L2186.9 1864.3L2191.5 1858.3L2196.2 1852.3L2200.9 1846.3L2205.6 1840.2L2210.3 1833.9L2215.0 1827.6L2219.7 1821.2L2224.4 1814.6L2229.1 1807.9L2233.7 1801.0L2238.4 1793.9L2243.1 1786.6L2247.8 1779.0L2252.5 1771.1L2257.2 1762.9L2261.9 1754.4L2266.6 1745.6L2271.3 1736.6L2275.9 1727.4L2280.6 1717.9L2285.3 1708.2L2290.0 1698.3L2294.7 1688.3L2299.4 1678.2L2304.1 1667.9L2308.8 1657.7L2313.5 1647.3L2318.1 1636.9L2322.8 1626.3L2327.5 1615.5L2332.2 1604.5L2336.9 1593.3L2341.6 1581.9L2346.3 1570.1L2351.0 1558.2L2355.6 1545.9L2360.3 1533.4L2365.0 1520.5L2369.7 1507.4L2374.4 1493.9L2379.1 1480.0L2383.8 1465.8L2388.5 1451.3L2393.2 1436.4L2397.8 1421.4L2402.5 1406.2L2407.2 1391.2L2411.9 1376.4L2416.6 1362.0L2421.3 1348.0L2426.0 1334.5L2430.7 1321.1L2435.4 1307.6L2440.0 1293.7L2444.7 1279.3L2449.4 1264.1L2454.1 1248.3L2458.8 1232.0L2463.5 1215.2L2468.2 1198.1L2472.9 1180.9L2477.6 1163.5L2482.2 1146.1L2486.9 1128.7L2491.6 1111.2L2496.3 1093.7L2501.0 1076.1L2505.7 1058.4L2510.4 1040.8L2515.1 1023.0L2519.8 1005.3L2524.4 987.5L2529.1 969.7L2533.8 951.8L2538.5 934.1L2543.2 916.5L2547.9 899.2L2552.6 882.2L2557.3 865.6L2561.9 849.5L2566.6 833.7L2571.3 818.4L2576.0 803.3L2580.7 788.3L2585.4 773.3L2590.1 758.3L2594.8 743.1L2599.5 727.7L2604.1 712.0L2608.8 696.1L2613.5 680.0L2618.2 663.6L2622.9 647.0L2627.6 630.2L2632.3 613.3L2637.0 596.4L2641.7 579.6L2646.3 563.1L2651.0 546.8L2655.7 530.9L2660.4 515.2L2665.1 499.8L2669.8 484.7L2674.5 469.9L2679.2 455.6L2683.9 441.9L2688.5 428.7L2693.2 416.3L2697.9 404.6L2702.6 393.6L2707.3 383.2L2712.0 373.4L2716.7 364.0L2721.4 355.2L2726.1 346.7L2730.7 338.6L2735.4 331.0L2740.1 323.7L2744.8 316.9L2749.5 310.4L2754.2 304.5L2758.9 298.9L2763.6 293.9L2768.2 289.4L2772.9 285.4L2777.6 281.8L2782.3 278.8L2787.0 276.2L2791.7 274.0L2796.4 272.4L2801.1 271.3L2805.8 270.6L2810.4 270.5L2815.1 271.0L2819.8 272.1L2824.5 273.7L2829.2 275.9L2833.9 278.7L2838.6 282.1L2843.3 286.1L2848.0 290.8L2852.6 296.1L2857.3 302.0L2862.0 308.5L2866.7 315.7L2871.4 323.5L2876.1 331.9L2880.8 341.0L2885.5 350.7L2890.2 361.1L2894.8 372.0L2899.5 383.6L2904.2 395.9L2908.9 408.9L2913.6 422.6L2918.3 437.0L2923.0 452.0L2927.7 467.8L2932.4 484.1L2937.0 500.9L2941.7 518.2L2946.4 535.7L2951.1 553.4L2953.4 562.3"/>
</g>
<g stroke="#000" stroke-width="4.8" fill="none" stroke-linecap="butt">
<rect x="374.7" y="179.4" width="2578.8" height="2027.1"/>
<path d="M468.5 2206.6v-24.0M468.5 179.4v24.0M562.2 2206.6v-24.0M562.2 179.4v24.0M656.0 2206.6v-24.0M656.0 179.4v24.0M749.8 2206.6v-24.0M749.8 179.4v24.0M843.6 2206.6v-47.5M843.6 179.4v47.5M937.3 2206.6v-24.0M937.3 179.4v24.0M1031.1 2206.6v-24.0M1031.1 179.4v24.0M1124.9 2206.6v-24.0M1124.9 179.4v24.0M1218.7 2206.6v-24.0M1218.7 179.4v24.0M1312.4 2206.6v-47.5M1312.4 179.4v47.5M1406.2 2206.6v-24.0M1406.2 179.4v24.0M1500.0 2206.6v-24.0M1500.0 179.4v24.0M1593.7 2206.6v-24.0M1593.7 179.4v24.0M1687.5 2206.6v-24.0M1687.5 179.4v24.0M1781.3 2206.6v-47.5M1781.3 179.4v47.5M1875.1 2206.6v-24.0M1875.1 179.4v24.0M1968.8 2206.6v-24.0M1968.8 179.4v24.0M2062.6 2206.6v-24.0M2062.6 179.4v24.0M2156.4 2206.6v-24.0M2156.4 179.4v24.0M2250.2 2206.6v-47.5M2250.2 179.4v47.5M2343.9 2206.6v-24.0M2343.9 179.4v24.0M2437.7 2206.6v-24.0M2437.7 179.4v24.0M2531.5 2206.6v-24.0M2531.5 179.4v24.0M2625.2 2206.6v-24.0M2625.2 179.4v24.0M2719.0 2206.6v-47.5M2719.0 179.4v47.5M2812.8 2206.6v-24.0M2812.8 179.4v24.0M2906.6 2206.6v-24.0M2906.6 179.4v24.0M374.7 2148.6h24.0M2953.4 2148.6h-24.0M374.7 2090.7h24.0M2953.4 2090.7h-24.0M374.7 2032.8h24.0M2953.4 2032.8h-24.0M374.7 1974.9h24.0M2953.4 1974.9h-24.0M374.7 1917.0h47.5M2953.4 1917.0h-47.5M374.7 1859.0h24.0M2953.4 1859.0h-24.0M374.7 1801.1h24.0M2953.4 1801.1h-24.0M374.7 1743.2h24.0M2953.4 1743.2h-24.0M374.7 1685.3h24.0M2953.4 1685.3h-24.0M374.7 1627.4h47.5M2953.4 1627.4h-47.5M374.7 1569.5h24.0M2953.4 1569.5h-24.0M374.7 1511.5h24.0M2953.4 1511.5h-24.0M374.7 1453.6h24.0M2953.4 1453.6h-24.0M374.7 1395.7h24.0M2953.4 1395.7h-24.0M374.7 1337.8h47.5M2953.4 1337.8h-47.5M374.7 1279.9h24.0M2953.4 1279.9h-24.0M374.7 1222.0h24.0M2953.4 1222.0h-24.0M374.7 1164.0h24.0M2953.4 1164.0h-24.0M374.7 1106.1h24.0M2953.4 1106.1h-24.0M374.7 1048.2h47.5M2953.4 1048.2h-47.5M374.7 990.3h24.0M2953.4 990.3h-24.0M374.7 932.4h24.0M2953.4 932.4h-24.0M374.7 874.5h24.0M2953.4 874.5h-24.0M374.7 816.5h24.0M2953.4 816.5h-24.0M374.7 758.6h47.5M2953.4 758.6h-47.5M374.7 700.7h24.0M2953.4 700.7h-24.0M374.7 642.8h24.0M2953.4 642.8h-24.0M374.7 584.9h24.0M2953.4 584.9h-24.0M374.7 527.0h24.0M2953.4 527.0h-24.0M374.7 469.0h47.5M2953.4 469.0h-47.5M374.7 411.1h24.0M2953.4 411.1h-24.0M374.7 353.2h24.0M2953.4 353.2h-24.0M374.7 295.3h24.0M2953.4 295.3h-24.0M374.7 237.4h24.0M2953.4 237.4h-24.0"/>
</g>
<text id="cms" transform="translate(383.03 140.70) scale(0.9375 1)" font-size="134.40" font-weight="bold">CMS</text>
<text id="prelim" transform="translate(701.58 140.50) scale(0.9847 1)" font-size="119.40" font-style="italic">Preliminary</text>
<path fill="#000" d="M2056.92 64.50L2064.10 64.50L2064.10 155.80L2052.43 155.80L2052.43 90.26L2032.95 90.26L2032.95 82.46C2038.94 81.92 2044.31 80.85 2049.73 78.59C2053.35 76.33 2055.60 70.95 2056.92 64.50Z"/>
<text id="lumi1" transform="translate(2089.27 155.80) scale(0.9555 1)" font-size="132.70" >38</text>
<text id="lumi1b" transform="translate(2266.40 155.80) scale(1.0072 1)" font-size="126.50" >fb</text>
<rect x="2374.7" y="71.7" width="20.4" height="5.7" fill="#000"/>
<path fill="#000" d="M2422.33 37.40L2427.00 37.40L2427.00 96.80L2419.41 96.80L2419.41 54.16L2406.73 54.16L2406.73 49.08C2410.63 48.73 2414.13 48.03 2417.65 46.57C2420.00 45.10 2421.47 41.60 2422.33 37.40Z"/>
<text  transform="translate(2468.01 155.92) scale(0.8081 1)" font-size="127.41" >(</text>
<path fill="#000" d="M2543.72 64.50L2550.90 64.50L2550.90 155.80L2539.23 155.80L2539.23 90.26L2519.75 90.26L2519.75 82.46C2525.74 81.92 2531.11 80.85 2536.53 78.59C2540.15 76.33 2542.40 70.95 2543.72 64.50Z"/>
<text id="lumi3" transform="translate(2575.82 155.80) scale(0.9430 1)" font-size="133.00" >3 TeV</text>
<text  transform="translate(2917.40 155.92) scale(0.8052 1)" font-size="127.41" >)</text>
<text id="yt0" transform="translate(290.93 2251.60) scale(0.9540 1)" font-size="124.40" >0</text>
<text id="yt5" transform="translate(291.98 1962.01) scale(0.9540 1)" font-size="124.40" >5</text>
<text id="yt10" transform="translate(294.23 1669.23) scale(0.9540 1)" font-size="124.40" >0</text>
<path fill="#000" d="M262.91 1582.33L269.67 1582.33L269.67 1668.23L258.69 1668.23L258.69 1606.56L240.36 1606.56L240.36 1599.23C245.99 1598.72 251.05 1597.71 256.15 1595.58C259.55 1593.46 261.68 1588.40 262.91 1582.33Z"/>
<text id="yt15" transform="translate(291.48 1381.64) scale(0.9540 1)" font-size="124.40" >5</text>
<path fill="#000" d="M260.27 1294.74L267.03 1294.74L267.03 1380.64L256.05 1380.64L256.05 1318.97L237.72 1318.97L237.72 1311.64C243.36 1311.13 248.42 1310.12 253.52 1308.00C256.91 1305.87 259.04 1300.81 260.27 1294.74Z"/>
<text id="yt20" transform="translate(227.93 1090.06) scale(0.9540 1)" font-size="124.40" >20</text>
<text id="yt25" transform="translate(225.48 803.67) scale(0.9540 1)" font-size="124.40" >25</text>
<text id="yt30" transform="translate(227.73 512.59) scale(0.9540 1)" font-size="124.40" >30</text>
<text id="yt35" transform="translate(225.18 224.70) scale(0.9540 1)" font-size="124.40" >35</text>
<text id="xt0" transform="translate(291.31 2346.80) scale(0.9455 1)" font-size="124.30" >0.0</text>
<text id="xt1" transform="translate(772.24 2346.80) scale(0.9593 1)" font-size="124.30" >0.</text>
<path fill="#000" d="M905.22 2259.90L911.90 2259.90L911.90 2344.80L901.05 2344.80L901.05 2283.85L882.93 2283.85L882.93 2276.60C888.50 2276.10 893.50 2275.10 898.54 2273.00C901.90 2270.90 904.00 2265.90 905.22 2259.90Z"/>
<text id="xt2" transform="translate(1229.70 2346.80) scale(0.9455 1)" font-size="124.30" >0.2</text>
<text id="xt3" transform="translate(1698.19 2346.80) scale(0.9455 1)" font-size="124.30" >0.3</text>
<text id="xt4" transform="translate(2166.19 2346.80) scale(0.9455 1)" font-size="124.30" >0.4</text>
<text id="xt5" transform="translate(2635.80 2346.80) scale(0.9455 1)" font-size="124.30" >0.5</text>
<g id="ytitle" transform="translate(127 743) rotate(-90)">
<rect x="0.0" y="-44.1" width="33.3" height="10.1" fill="#000"/>
<text  transform="translate(37.54 0.00) scale(1.0069 1)" font-size="147.37" >2</text>
<text  transform="translate(288.40 0.00) scale(0.9512 1)" font-size="143.50" >ln(</text>
<text  transform="translate(445.30 0.00) scale(0.9724 1)" font-size="150.44" >L</text>
<text  transform="translate(528.51 0.00) scale(0.8200 1)" font-size="143.50" >)</text>
<path fill="#000" fill-rule="evenodd" d="M163.1 0L208.5 -96.8L248 0ZM173.3 -7.1L202.9 -72.3L229.8 -7.1Z"/>
</g>
<path id="xi" fill="#000" d="M2914.22 2420.24C2912.06 2420.37 2910.65 2421.48 2908.74 2422.73C2906.83 2423.97 2904.43 2425.88 2902.76 2427.71C2901.10 2429.54 2899.78 2431.53 2898.78 2433.69C2897.78 2435.84 2897.09 2438.34 2896.79 2440.66C2896.49 2442.98 2896.49 2445.31 2896.99 2447.63C2897.48 2449.96 2898.48 2452.53 2899.78 2454.61C2901.07 2456.68 2902.76 2458.68 2904.76 2460.09C2906.75 2461.50 2909.24 2462.41 2911.73 2463.08C2914.22 2463.74 2917.04 2463.91 2919.70 2464.07C2922.36 2464.24 2925.01 2464.16 2927.67 2464.07C2930.33 2463.99 2933.15 2463.41 2935.64 2463.57C2938.13 2463.74 2940.54 2464.16 2942.62 2465.07C2944.69 2465.98 2946.60 2467.31 2948.09 2469.05C2949.59 2470.80 2950.92 2473.12 2951.58 2475.53C2952.25 2477.94 2952.41 2480.84 2952.08 2483.50C2951.75 2486.16 2950.67 2488.98 2949.59 2491.47C2948.51 2493.96 2947.10 2496.28 2945.60 2498.44C2944.11 2500.60 2942.45 2502.76 2940.62 2504.42C2938.80 2506.08 2936.64 2507.58 2934.65 2508.41C2932.65 2509.24 2930.66 2509.49 2928.67 2509.40C2926.67 2509.32 2924.35 2508.82 2922.69 2507.91C2921.03 2506.99 2919.45 2505.33 2918.70 2503.92C2917.96 2502.51 2917.87 2500.77 2918.21 2499.44C2918.54 2498.11 2919.62 2496.70 2920.70 2495.95C2921.78 2495.21 2923.19 2495.01 2924.68 2494.96C2926.18 2494.91 2928.00 2495.40 2929.66 2495.65C2931.32 2495.90 2933.15 2496.40 2934.65 2496.45C2936.14 2496.50 2937.30 2496.62 2938.63 2495.95C2939.96 2495.29 2941.62 2493.88 2942.62 2492.47C2943.61 2491.05 2944.36 2489.06 2944.61 2487.48C2944.86 2485.91 2944.77 2484.41 2944.11 2483.00C2943.45 2481.59 2942.03 2479.93 2940.62 2479.02C2939.21 2478.10 2937.47 2477.72 2935.64 2477.52C2933.81 2477.32 2932.32 2477.74 2929.66 2477.82C2927.01 2477.90 2923.02 2478.24 2919.70 2478.02C2916.38 2477.80 2912.73 2477.36 2909.74 2476.53C2906.75 2475.70 2904.18 2474.70 2901.77 2473.04C2899.36 2471.38 2897.04 2468.97 2895.29 2466.56C2893.55 2464.16 2892.22 2461.42 2891.31 2458.59C2890.39 2455.77 2889.90 2452.62 2889.81 2449.63C2889.73 2446.64 2889.98 2443.65 2890.81 2440.66C2891.64 2437.67 2893.13 2434.52 2894.79 2431.69C2896.45 2428.87 2898.61 2425.92 2900.77 2423.72C2902.93 2421.53 2907.41 2420.37 2907.75 2418.54C2908.08 2416.72 2904.01 2414.72 2902.76 2412.76C2901.52 2410.81 2900.72 2408.78 2900.27 2406.79C2899.83 2404.79 2899.83 2402.80 2900.07 2400.81C2900.32 2398.82 2900.90 2396.58 2901.77 2394.83C2902.63 2393.09 2905.42 2391.43 2905.26 2390.35C2905.09 2389.27 2902.18 2389.27 2900.77 2388.36C2899.36 2387.44 2897.73 2386.28 2896.79 2384.87C2895.84 2383.46 2895.09 2381.55 2895.09 2379.89C2895.09 2378.23 2895.67 2376.48 2896.79 2374.91C2897.90 2373.33 2899.94 2371.39 2901.77 2370.42C2903.59 2369.46 2906.22 2369.16 2907.75 2369.13C2909.27 2369.10 2910.60 2369.73 2910.93 2370.22C2911.27 2370.72 2910.60 2371.50 2909.74 2372.12C2908.88 2372.73 2906.88 2372.86 2905.75 2373.91C2904.62 2374.96 2903.21 2376.98 2902.96 2378.39C2902.71 2379.80 2903.46 2381.30 2904.26 2382.38C2905.06 2383.46 2906.67 2384.32 2907.75 2384.87C2908.83 2385.42 2909.41 2386.25 2910.73 2385.67C2912.06 2385.09 2913.72 2382.93 2915.72 2381.38C2917.71 2379.84 2920.37 2377.60 2922.69 2376.40C2925.01 2375.21 2927.67 2374.46 2929.66 2374.21C2931.66 2373.96 2933.45 2374.29 2934.65 2374.91C2935.84 2375.52 2936.67 2376.65 2936.84 2377.90C2937.00 2379.14 2936.50 2380.97 2935.64 2382.38C2934.78 2383.79 2933.48 2385.20 2931.66 2386.36C2929.83 2387.53 2927.01 2388.69 2924.68 2389.35C2922.36 2390.02 2919.70 2390.10 2917.71 2390.35C2915.72 2390.60 2914.22 2390.10 2912.73 2390.85C2911.23 2391.59 2909.90 2393.34 2908.74 2394.83C2907.58 2396.33 2906.33 2398.15 2905.75 2399.81C2905.17 2401.47 2905.01 2403.13 2905.26 2404.79C2905.50 2406.45 2906.33 2408.28 2907.25 2409.78C2908.16 2411.27 2909.74 2412.85 2910.73 2413.76C2911.73 2414.67 2911.73 2415.50 2913.23 2415.26C2914.72 2415.01 2917.29 2413.18 2919.70 2412.27C2922.11 2411.35 2925.01 2410.27 2927.67 2409.78C2930.33 2409.28 2933.32 2409.11 2935.64 2409.28C2937.97 2409.44 2940.21 2409.94 2941.62 2410.77C2943.03 2411.60 2943.94 2413.01 2944.11 2414.26C2944.28 2415.50 2943.69 2417.13 2942.62 2418.24C2941.54 2419.36 2939.79 2420.27 2937.63 2420.93C2935.48 2421.60 2932.32 2422.06 2929.66 2422.23C2927.01 2422.40 2924.27 2422.26 2921.69 2421.93C2919.12 2421.60 2916.38 2420.10 2914.22 2420.24Z"/>
<g stroke-width="12.8" fill="none">
<path stroke="#3f90da" d="M555.7 326.8H1035"/>
<path stroke="#ffa90e" d="M555.7 503.9H1035"/>
<path stroke="#e76300" d="M555.7 681.0H1035"/>
<path stroke="#b9ac70" d="M555.7 858.1H1035"/>
<path stroke="#832db6" d="M555.7 1035.2H1035"/>
<path stroke="#92dadd" d="M555.7 1212.3H1035"/>
<path stroke="#6e7b89" d="M555.7 1389.4H1035"/>
</g>
<text  transform="translate(1132.95 363.80) scale(1.0469 1)" font-size="119.37" >b</text>
<text  transform="translate(1196.35 363.80) scale(1.0469 1)" font-size="119.37" >b</text>
<text  transform="translate(1259.35 363.80) scale(1.0469 1)" font-size="119.37" >b</text>
<text  transform="translate(1322.75 363.80) scale(1.0469 1)" font-size="119.37" >b</text>
<rect x="1197.4" y="262.1" width="63.2" height="8" fill="#000"/>
<rect x="1323.3" y="262.1" width="63.2" height="8" fill="#000"/>
<text  transform="translate(1425.50 363.80) scale(1.0036 1)" font-size="82.50" >resolved jets</text>
<text  transform="translate(1132.95 540.95) scale(1.0469 1)" font-size="119.37" >b</text>
<text  transform="translate(1196.35 540.95) scale(1.0469 1)" font-size="119.37" >b</text>
<text  transform="translate(1259.35 540.95) scale(1.0469 1)" font-size="119.37" >b</text>
<text  transform="translate(1322.75 540.95) scale(1.0469 1)" font-size="119.37" >b</text>
<rect x="1197.4" y="439.3" width="63.2" height="8" fill="#000"/>
<rect x="1323.3" y="439.3" width="63.2" height="8" fill="#000"/>
<text  transform="translate(1425.52 540.95) scale(1.0010 1)" font-size="82.50" >merged jets</text>
<text  transform="translate(1132.95 718.10) scale(1.0469 1)" font-size="119.37" >b</text>
<text  transform="translate(1196.35 718.10) scale(1.0469 1)" font-size="119.37" >b</text>
<rect x="1197.4" y="616.4" width="63.2" height="8" fill="#000"/>
<path fill="#000" d="M19.12 -58.92L48.09 -58.92L48.09 -47.91L28.97 -47.91C28.87 -46.90 28.63 -44.20 28.39 -41.83C28.15 -39.47 27.79 -36.23 27.52 -33.72C27.25 -31.21 26.93 -28.89 26.77 -26.77C26.60 -24.64 26.36 -22.71 26.54 -20.97C26.71 -19.24 27.11 -17.79 27.81 -16.34C28.51 -14.89 29.64 -13.30 30.71 -12.28C31.77 -11.27 33.02 -10.64 34.18 -10.25C35.34 -9.87 36.69 -9.72 37.66 -9.97C38.62 -10.21 39.35 -10.83 39.98 -11.70C40.60 -12.57 41.04 -13.97 41.43 -15.18C41.81 -16.39 42.15 -18.32 42.29 -18.95L45.48 -18.83C45.38 -18.03 45.24 -15.79 44.90 -14.02C44.56 -12.25 44.18 -10.06 43.45 -8.23C42.73 -6.39 41.71 -4.46 40.56 -3.01C39.40 -1.56 37.95 -0.33 36.50 0.46C35.05 1.26 33.31 1.69 31.87 1.74C30.42 1.79 29.11 1.54 27.81 0.75C26.51 -0.04 25.11 -1.52 24.04 -3.01C22.98 -4.51 22.08 -6.39 21.44 -8.23C20.79 -10.06 20.40 -11.90 20.16 -14.02C19.92 -16.15 19.92 -18.66 19.99 -20.97C20.06 -23.29 20.33 -25.61 20.57 -27.93C20.81 -30.24 21.15 -32.56 21.44 -34.88C21.73 -37.20 22.06 -39.71 22.31 -41.83C22.55 -43.96 22.79 -46.66 22.89 -47.62C21.68 -47.64 17.62 -47.84 15.64 -47.74C13.66 -47.64 12.36 -47.55 11.01 -47.05C9.66 -46.54 8.55 -45.79 7.53 -44.73C6.52 -43.67 5.68 -42.07 4.92 -40.67C4.17 -39.27 3.33 -37.05 3.01 -36.33L0.00 -36.33C0.24 -37.15 0.87 -39.56 1.45 -41.25C2.03 -42.94 2.66 -44.73 3.48 -46.47C4.30 -48.20 5.21 -50.14 6.37 -51.68C7.53 -53.23 9.08 -54.67 10.43 -55.74C11.78 -56.80 13.04 -57.52 14.48 -58.05C15.93 -58.58 18.35 -58.78 19.12 -58.92Z" transform="translate(1262.50 718.10) scale(0.9919 1)"/>
<path fill="#000" d="M1316.0 657.1h38.0v5.6h-38.0zM1332.2 640.9h5.6v38.0h-5.6z"/>
<path fill="#000" d="M19.12 -58.92L48.09 -58.92L48.09 -47.91L28.97 -47.91C28.87 -46.90 28.63 -44.20 28.39 -41.83C28.15 -39.47 27.79 -36.23 27.52 -33.72C27.25 -31.21 26.93 -28.89 26.77 -26.77C26.60 -24.64 26.36 -22.71 26.54 -20.97C26.71 -19.24 27.11 -17.79 27.81 -16.34C28.51 -14.89 29.64 -13.30 30.71 -12.28C31.77 -11.27 33.02 -10.64 34.18 -10.25C35.34 -9.87 36.69 -9.72 37.66 -9.97C38.62 -10.21 39.35 -10.83 39.98 -11.70C40.60 -12.57 41.04 -13.97 41.43 -15.18C41.81 -16.39 42.15 -18.32 42.29 -18.95L45.48 -18.83C45.38 -18.03 45.24 -15.79 44.90 -14.02C44.56 -12.25 44.18 -10.06 43.45 -8.23C42.73 -6.39 41.71 -4.46 40.56 -3.01C39.40 -1.56 37.95 -0.33 36.50 0.46C35.05 1.26 33.31 1.69 31.87 1.74C30.42 1.79 29.11 1.54 27.81 0.75C26.51 -0.04 25.11 -1.52 24.04 -3.01C22.98 -4.51 22.08 -6.39 21.44 -8.23C20.79 -10.06 20.40 -11.90 20.16 -14.02C19.92 -16.15 19.92 -18.66 19.99 -20.97C20.06 -23.29 20.33 -25.61 20.57 -27.93C20.81 -30.24 21.15 -32.56 21.44 -34.88C21.73 -37.20 22.06 -39.71 22.31 -41.83C22.55 -43.96 22.79 -46.66 22.89 -47.62C21.68 -47.64 17.62 -47.84 15.64 -47.74C13.66 -47.64 12.36 -47.55 11.01 -47.05C9.66 -46.54 8.55 -45.79 7.53 -44.73C6.52 -43.67 5.68 -42.07 4.92 -40.67C4.17 -39.27 3.33 -37.05 3.01 -36.33L0.00 -36.33C0.24 -37.15 0.87 -39.56 1.45 -41.25C2.03 -42.94 2.66 -44.73 3.48 -46.47C4.30 -48.20 5.21 -50.14 6.37 -51.68C7.53 -53.23 9.08 -54.67 10.43 -55.74C11.78 -56.80 13.04 -57.52 14.48 -58.05C15.93 -58.58 18.35 -58.78 19.12 -58.92Z" transform="translate(1356.30 718.10) scale(0.9919 1)"/>
<rect x="1409.5" y="642.0" width="18.5" height="5.6" fill="#000"/>
<text  transform="translate(1132.95 895.25) scale(1.0469 1)" font-size="119.37" >b</text>
<text  transform="translate(1196.35 895.25) scale(1.0469 1)" font-size="119.37" >b</text>
<rect x="1197.4" y="793.5" width="63.2" height="8" fill="#000"/>
<path fill="#000" d="M0.00 -38.18C0.07 -39.35 0.16 -42.96 0.45 -45.19C0.73 -47.42 1.03 -49.60 1.72 -51.56C2.41 -53.53 3.47 -55.60 4.59 -56.98C5.70 -58.36 7.14 -59.24 8.41 -59.85C9.69 -60.45 10.96 -60.66 12.24 -60.61C13.51 -60.56 14.89 -60.13 16.06 -59.53C17.23 -58.92 18.24 -58.20 19.25 -56.98C20.26 -55.76 21.27 -54.06 22.12 -52.20C22.97 -50.34 23.66 -48.16 24.35 -45.83C25.04 -43.49 25.62 -40.83 26.26 -38.18C26.90 -35.52 27.59 -32.44 28.17 -29.89C28.76 -27.34 29.32 -24.74 29.76 -22.88C30.21 -21.02 30.67 -19.43 30.85 -18.74L44.10 -58.70L56.53 -58.70L32.63 -7.90C32.84 -6.89 33.54 -3.92 33.91 -1.85C34.28 0.22 34.67 2.40 34.86 4.53C35.05 6.65 35.16 8.88 35.05 10.90C34.95 12.92 34.63 14.94 34.23 16.63C33.82 18.33 33.32 19.77 32.63 21.10C31.94 22.42 31.04 23.78 30.08 24.60C29.13 25.42 27.96 25.95 26.90 26.00C25.83 26.06 24.61 25.63 23.71 24.92C22.81 24.21 22.01 23.01 21.48 21.73C20.95 20.46 20.66 18.87 20.52 17.27C20.38 15.68 20.44 13.98 20.65 12.17C20.86 10.37 21.29 8.35 21.80 6.44C22.31 4.53 22.97 2.61 23.71 0.70C24.45 -1.21 25.60 -3.55 26.26 -5.04C26.92 -6.52 27.43 -7.69 27.66 -8.22C27.53 -9.28 27.29 -12.05 26.90 -14.60C26.50 -17.14 25.89 -20.65 25.30 -23.52C24.72 -26.39 24.08 -29.15 23.39 -31.80C22.70 -34.46 22.01 -37.06 21.16 -39.45C20.31 -41.84 19.30 -44.39 18.29 -46.14C17.28 -47.90 16.22 -49.15 15.11 -49.97C13.99 -50.79 12.82 -51.05 11.60 -51.05C10.38 -51.05 8.89 -50.68 7.78 -49.97C6.66 -49.26 5.63 -48.00 4.91 -46.78C4.19 -45.56 3.79 -44.07 3.44 -42.64C3.09 -41.20 2.91 -38.92 2.80 -38.18L0.00 -38.18Z" transform="translate(1261.40 895.25) scale(0.9959 1)"/>
<path fill="#000" d="M0.00 -38.18C0.07 -39.35 0.16 -42.96 0.45 -45.19C0.73 -47.42 1.03 -49.60 1.72 -51.56C2.41 -53.53 3.47 -55.60 4.59 -56.98C5.70 -58.36 7.14 -59.24 8.41 -59.85C9.69 -60.45 10.96 -60.66 12.24 -60.61C13.51 -60.56 14.89 -60.13 16.06 -59.53C17.23 -58.92 18.24 -58.20 19.25 -56.98C20.26 -55.76 21.27 -54.06 22.12 -52.20C22.97 -50.34 23.66 -48.16 24.35 -45.83C25.04 -43.49 25.62 -40.83 26.26 -38.18C26.90 -35.52 27.59 -32.44 28.17 -29.89C28.76 -27.34 29.32 -24.74 29.76 -22.88C30.21 -21.02 30.67 -19.43 30.85 -18.74L44.10 -58.70L56.53 -58.70L32.63 -7.90C32.84 -6.89 33.54 -3.92 33.91 -1.85C34.28 0.22 34.67 2.40 34.86 4.53C35.05 6.65 35.16 8.88 35.05 10.90C34.95 12.92 34.63 14.94 34.23 16.63C33.82 18.33 33.32 19.77 32.63 21.10C31.94 22.42 31.04 23.78 30.08 24.60C29.13 25.42 27.96 25.95 26.90 26.00C25.83 26.06 24.61 25.63 23.71 24.92C22.81 24.21 22.01 23.01 21.48 21.73C20.95 20.46 20.66 18.87 20.52 17.27C20.38 15.68 20.44 13.98 20.65 12.17C20.86 10.37 21.29 8.35 21.80 6.44C22.31 4.53 22.97 2.61 23.71 0.70C24.45 -1.21 25.60 -3.55 26.26 -5.04C26.92 -6.52 27.43 -7.69 27.66 -8.22C27.53 -9.28 27.29 -12.05 26.90 -14.60C26.50 -17.14 25.89 -20.65 25.30 -23.52C24.72 -26.39 24.08 -29.15 23.39 -31.80C22.70 -34.46 22.01 -37.06 21.16 -39.45C20.31 -41.84 19.30 -44.39 18.29 -46.14C17.28 -47.90 16.22 -49.15 15.11 -49.97C13.99 -50.79 12.82 -51.05 11.60 -51.05C10.38 -51.05 8.89 -50.68 7.78 -49.97C6.66 -49.26 5.63 -48.00 4.91 -46.78C4.19 -45.56 3.79 -44.07 3.44 -42.64C3.09 -41.20 2.91 -38.92 2.80 -38.18L0.00 -38.18Z" transform="translate(1320.20 895.25) scale(1.0048 1)"/>
<text  transform="translate(1132.95 1072.40) scale(1.0469 1)" font-size="119.37" >b</text>
<text  transform="translate(1196.35 1072.40) scale(1.0469 1)" font-size="119.37" >b</text>
<rect x="1197.4" y="970.7" width="63.2" height="8" fill="#000"/>
<text  transform="translate(1263.40 1072.40) scale(0.9190 1)" font-size="123.69" >W</text>
<path fill="#000" d="M1375.0 992.3h38.1v5.6h-38.1zM1391.2 976.1h5.6v38.1h-5.6z"/>
<text  transform="translate(1416.70 1072.40) scale(0.9181 1)" font-size="123.69" >W</text>
<rect x="1527.3" y="977.0" width="18.7" height="5.6" fill="#000"/>
<text  transform="translate(1133.53 1249.55) scale(0.9825 1)" font-size="123.69" >M</text>
<text  transform="translate(1231.22 1249.55) scale(1.0028 1)" font-size="118.00" >ultilepton</text>
<text  transform="translate(1137.30 1426.70) scale(0.9190 1)" font-size="123.69" >W</text>
<path fill="#000" d="M1248.9 1347.0h37.8v5.6h-37.8zM1265.0 1330.9h5.6v37.8h-5.6z"/>
<text  transform="translate(1290.60 1426.70) scale(0.9190 1)" font-size="123.69" >W</text>
<rect x="1401.5" y="1331.6" width="18.8" height="5.8" fill="#000"/>
<path fill="#000" d="M0.00 -38.18C0.07 -39.35 0.16 -42.96 0.45 -45.19C0.73 -47.42 1.03 -49.60 1.72 -51.56C2.41 -53.53 3.47 -55.60 4.59 -56.98C5.70 -58.36 7.14 -59.24 8.41 -59.85C9.69 -60.45 10.96 -60.66 12.24 -60.61C13.51 -60.56 14.89 -60.13 16.06 -59.53C17.23 -58.92 18.24 -58.20 19.25 -56.98C20.26 -55.76 21.27 -54.06 22.12 -52.20C22.97 -50.34 23.66 -48.16 24.35 -45.83C25.04 -43.49 25.62 -40.83 26.26 -38.18C26.90 -35.52 27.59 -32.44 28.17 -29.89C28.76 -27.34 29.32 -24.74 29.76 -22.88C30.21 -21.02 30.67 -19.43 30.85 -18.74L44.10 -58.70L56.53 -58.70L32.63 -7.90C32.84 -6.89 33.54 -3.92 33.91 -1.85C34.28 0.22 34.67 2.40 34.86 4.53C35.05 6.65 35.16 8.88 35.05 10.90C34.95 12.92 34.63 14.94 34.23 16.63C33.82 18.33 33.32 19.77 32.63 21.10C31.94 22.42 31.04 23.78 30.08 24.60C29.13 25.42 27.96 25.95 26.90 26.00C25.83 26.06 24.61 25.63 23.71 24.92C22.81 24.21 22.01 23.01 21.48 21.73C20.95 20.46 20.66 18.87 20.52 17.27C20.38 15.68 20.44 13.98 20.65 12.17C20.86 10.37 21.29 8.35 21.80 6.44C22.31 4.53 22.97 2.61 23.71 0.70C24.45 -1.21 25.60 -3.55 26.26 -5.04C26.92 -6.52 27.43 -7.69 27.66 -8.22C27.53 -9.28 27.29 -12.05 26.90 -14.60C26.50 -17.14 25.89 -20.65 25.30 -23.52C24.72 -26.39 24.08 -29.15 23.39 -31.80C22.70 -34.46 22.01 -37.06 21.16 -39.45C20.31 -41.84 19.30 -44.39 18.29 -46.14C17.28 -47.90 16.22 -49.15 15.11 -49.97C13.99 -50.79 12.82 -51.05 11.60 -51.05C10.38 -51.05 8.89 -50.68 7.78 -49.97C6.66 -49.26 5.63 -48.00 4.91 -46.78C4.19 -45.56 3.79 -44.07 3.44 -42.64C3.09 -41.20 2.91 -38.92 2.80 -38.18L0.00 -38.18Z" transform="translate(1421.90 1426.70) scale(0.9853 1)"/>
<path fill="#000" d="M0.00 -38.18C0.07 -39.35 0.16 -42.96 0.45 -45.19C0.73 -47.42 1.03 -49.60 1.72 -51.56C2.41 -53.53 3.47 -55.60 4.59 -56.98C5.70 -58.36 7.14 -59.24 8.41 -59.85C9.69 -60.45 10.96 -60.66 12.24 -60.61C13.51 -60.56 14.89 -60.13 16.06 -59.53C17.23 -58.92 18.24 -58.20 19.25 -56.98C20.26 -55.76 21.27 -54.06 22.12 -52.20C22.97 -50.34 23.66 -48.16 24.35 -45.83C25.04 -43.49 25.62 -40.83 26.26 -38.18C26.90 -35.52 27.59 -32.44 28.17 -29.89C28.76 -27.34 29.32 -24.74 29.76 -22.88C30.21 -21.02 30.67 -19.43 30.85 -18.74L44.10 -58.70L56.53 -58.70L32.63 -7.90C32.84 -6.89 33.54 -3.92 33.91 -1.85C34.28 0.22 34.67 2.40 34.86 4.53C35.05 6.65 35.16 8.88 35.05 10.90C34.95 12.92 34.63 14.94 34.23 16.63C33.82 18.33 33.32 19.77 32.63 21.10C31.94 22.42 31.04 23.78 30.08 24.60C29.13 25.42 27.96 25.95 26.90 26.00C25.83 26.06 24.61 25.63 23.71 24.92C22.81 24.21 22.01 23.01 21.48 21.73C20.95 20.46 20.66 18.87 20.52 17.27C20.38 15.68 20.44 13.98 20.65 12.17C20.86 10.37 21.29 8.35 21.80 6.44C22.31 4.53 22.97 2.61 23.71 0.70C24.45 -1.21 25.60 -3.55 26.26 -5.04C26.92 -6.52 27.43 -7.69 27.66 -8.22C27.53 -9.28 27.29 -12.05 26.90 -14.60C26.50 -17.14 25.89 -20.65 25.30 -23.52C24.72 -26.39 24.08 -29.15 23.39 -31.80C22.70 -34.46 22.01 -37.06 21.16 -39.45C20.31 -41.84 19.30 -44.39 18.29 -46.14C17.28 -47.90 16.22 -49.15 15.11 -49.97C13.99 -50.79 12.82 -51.05 11.60 -51.05C10.38 -51.05 8.89 -50.68 7.78 -49.97C6.66 -49.26 5.63 -48.00 4.91 -46.78C4.19 -45.56 3.79 -44.07 3.44 -42.64C3.09 -41.20 2.91 -38.92 2.80 -38.18L0.00 -38.18Z" transform="translate(1481.30 1426.70) scale(0.9959 1)"/>
<text id="mchm" transform="translate(618.22 1678.80) scale(0.9498 1)" font-size="116.60" >MCHM</text>
<text id="mchm5" transform="translate(956.35 1716.00) scale(0.9647 1)" font-size="78.93" >5</text>
</svg></body></html>
